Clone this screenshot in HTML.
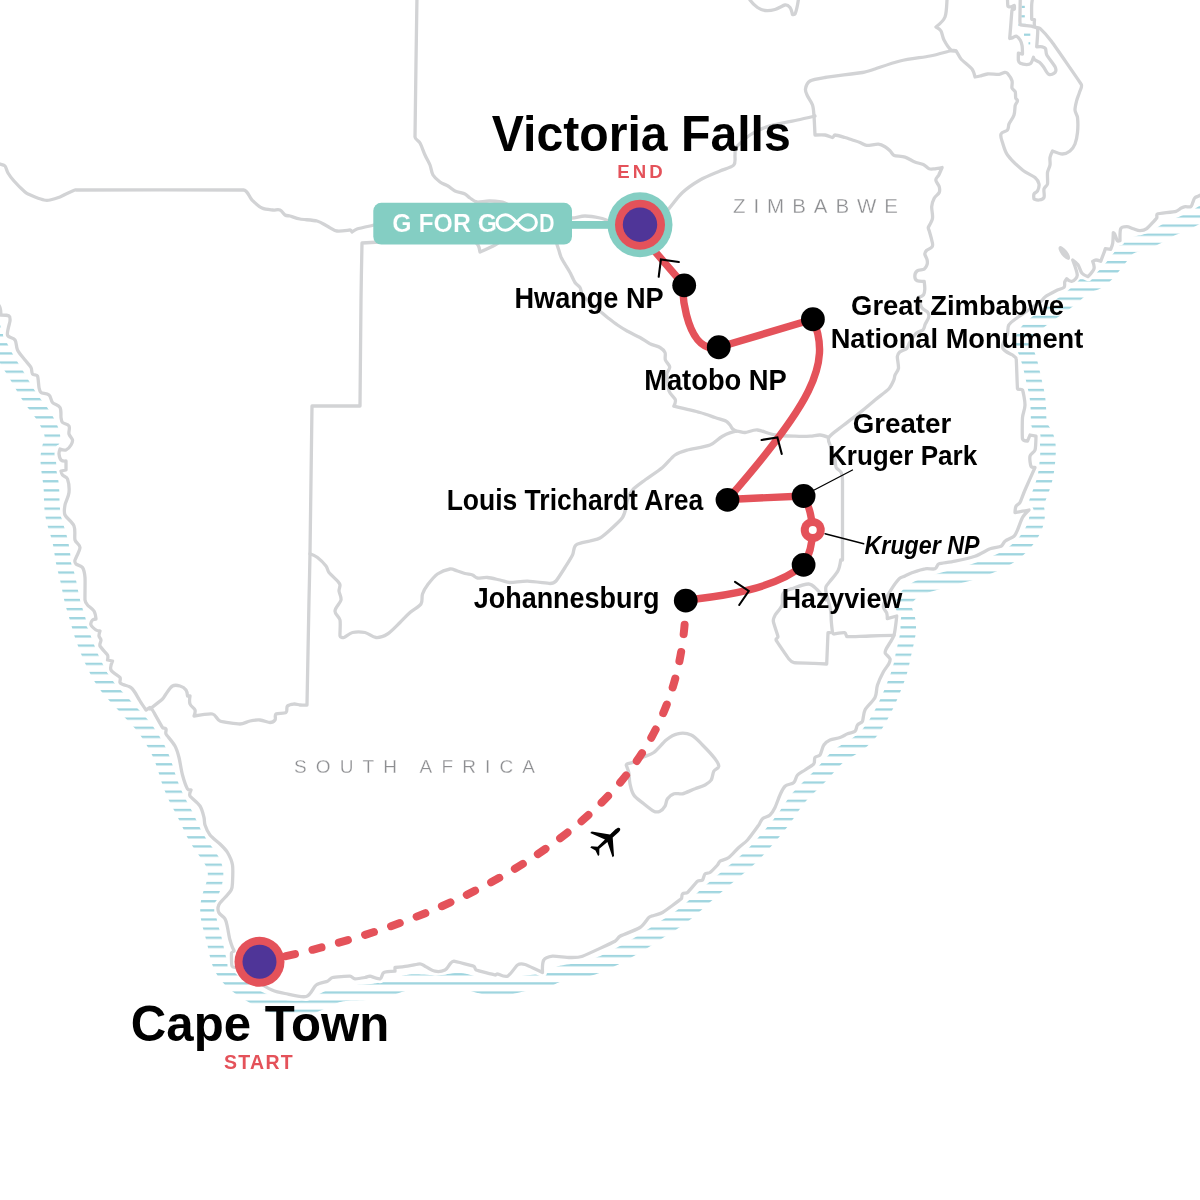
<!DOCTYPE html>
<html><head><meta charset="utf-8"><style>html,body{margin:0;padding:0;background:#fff;}svg{display:block;}</style></head>
<body><svg width="1200" height="1200" viewBox="0 0 1200 1200">
<defs>
<pattern id="hp" patternUnits="userSpaceOnUse" x="0" y="5.35" width="40" height="9.13"><rect x="0" y="0" width="40" height="2.3" fill="#9fd5df"/></pattern>
<mask id="hm" maskUnits="userSpaceOnUse" x="-10" y="-10" width="1220" height="1220">
<rect x="-10" y="-10" width="1220" height="1220" fill="#fff"/>
<path d="M1205,193 L1198.7,196 L1194.7,198 L1192.7,202.7 L1190.7,206.7 L1185.3,206.7 L1181.3,208 L1176,211.3 L1157.3,214 L1156.7,218 L1146.7,228.7 L1140,230.7 L1133.3,228.7 L1126.7,226.7 L1120.7,228.7 L1120,240.7 L1117.3,240.7 L1114.7,234 L1113.3,232.7 L1112.7,243.3 L1110.7,249.3 L1105.3,248.7 L1104,252.7 L1100.7,261.3 L1096,260 L1092.7,261.3 L1094,268.7 L1088,276.7 L1082,273.3 L1078,264.7 L1072.7,260 L1077.3,275.3 L1072,281.3 L1066.7,278.7 L1064.7,282 L1064,287.3 L1056,290.7 L1045.3,296.7 L1040,302.5 L1033.75,306.25 L1025,312.5 L1017.5,317.5 L1008.75,325 L1007.5,333.75 L1002.5,347.5 L1012.5,355 L1016.25,358.75 L1017.5,388.75 L1022.5,390 L1025,405 L1022.5,417.5 L1022.5,438.75 L1027.5,441.25 L1030,435 L1036,436.25 L1035,450 L1030,456.25 L1031,466.25 L1035,467.5 L1025,490 L1020,502.5 L1016,506.25 L1015,512.5 L1022.5,511.25 L1029,510 L1022.5,517.5 L1017.5,530 L1014,536.25 L1005,541.25 L1001,546.25 L990,548.75 L975,556.25 L955,561.25 L939,563.75 L935,568.75 L925,568.75 L912.5,572.5 L905,576 L899.3,578.7 L891.3,589.3 L886,598.7 L883.3,606.7 L886.7,613 L887.3,618.7 L896.7,616 L896,622.7 L894,635.3 L890,642.7 L886,649.3 L885.3,653.3 L890,658.7 L888.7,664 L883.3,672 L877.5,685 L875,697.5 L865,710 L862.5,721.25 L857.5,725 L855,731.25 L847.5,733.75 L840,737.5 L830,740 L823.75,745 L820,755 L815,757.5 L813.75,763.75 L805,770 L797.5,775 L793.75,782.5 L785,786.25 L780,795 L775,807.5 L770,815 L762.5,818.75 L758.75,825 L747.5,840 L738.75,847.5 L728.75,857.5 L720,861.25 L717.5,865 L710,872.5 L705,873.75 L702.5,880 L697.5,881.25 L687.5,892.5 L682.5,893.75 L681.25,898.75 L662.5,912.5 L653.75,915.5 L648.75,917.5 L640,927.5 L620,936.25 L615,941.25 L582.5,956.25 L570,957.5 L552.5,956.25 L543.75,960 L542.5,972.5 L525,964.5 L517.5,965 L507.5,976.25 L497.5,973.75 L495,975 L476.25,970 L473.75,966.25 L453.75,961.25 L450,964 L445,970 L435,971.25 L425,966.25 L420,963.75 L407.5,966.25 L395,967.5 L395,971.25 L383.75,972.5 L380,978.75 L370,976.25 L365,977.5 L355,978.75 L350,976.25 L332.5,977.5 L327.5,981.25 L316.25,985 L306.25,996.5 L285,993.5 L272,990 L258,982 L245,972 L237,968 L232,966 L231.5,953 L234,951 L233.75,950 L230,940 L227.5,927.5 L225,918.75 L218.75,912.5 L218.75,905 L225,897.5 L231.25,890 L232.5,882.5 L232.5,865 L227.5,852.5 L220,844 L210,835 L205,825 L204,817.5 L200,806 L190,796 L191,790 L187.5,789 L182.5,775 L179,757.5 L175,746 L166,734 L166,729 L162.5,727.5 L152.5,710 L150,707.5 L146,710 L140,701 L135,692.5 L132,688.5 L129,686.5 L123,684.5 L120,682.5 L120,677.5 L111,670 L112.5,661 L107.5,660 L107.5,655 L100,646 L101,640 L99,636 L100,631 L96,630 L91,625 L92.5,620 L96,619 L94,611 L87.5,605 L85,600 L85,577.5 L82.5,567.5 L76,564 L75,560 L80,547.5 L75,540 L74,526 L65,515 L65,505 L69,492.5 L67.5,479 L62.5,475 L61,471 L66,470 L66,461 L61,460 L59,454 L60,449 L66,450 L71,445 L72.5,440 L69,434 L69,426 L62.5,422.5 L61,417.5 L60,407.5 L52.5,402.5 L49,395 L41,392.5 L39,387.5 L37.5,376 L32.5,374 L31,367.5 L25,360 L17.5,350 L15,340 L7.5,335 L10,321 L9,316 L1,315 L0,307.5 L-5,300 L-10,-10 L1210,-10 Z" fill="#000"/>
<path d="M1200.58,195.875 L1199.33,196.744 L1197.9,197.744 L1196.29,198.858 L1194.52,200.06 L1192.61,201.321 L1190.56,202.611 L1188.4,203.9 L1186.12,205.162 L1183.76,206.382 L1181.31,207.55 L1178.8,208.668 L1176.25,209.747 L1173.68,210.803 L1171.1,211.857 L1168.55,212.932 L1166.03,214.048 L1163.57,215.222 L1161.15,216.459 L1158.78,217.756 L1156.44,219.096 L1154.12,220.452 L1151.81,221.792 L1149.49,223.08 L1147.15,224.282 L1144.77,225.371 L1142.37,226.335 L1139.95,227.177 L1137.53,227.916 L1135.15,228.587 L1132.83,229.227 L1130.6,229.874 L1128.5,230.558 L1126.54,231.294 L1124.73,232.086 L1123.07,232.921 L1121.56,233.787 L1120.17,234.67 L1118.91,235.563 L1117.73,236.471 L1116.62,237.41 L1115.56,238.405 L1114.52,239.481 L1113.48,240.663 L1112.42,241.968 L1111.33,243.399 L1110.19,244.946 L1109,246.592 L1107.74,248.313 L1106.42,250.084 L1105.06,251.881 L1103.65,253.685 L1102.21,255.481 L1100.76,257.258 L1099.3,259.005 L1097.84,260.709 L1096.39,262.348 L1094.94,263.893 L1093.49,265.312 L1092.02,266.565 L1090.54,267.611 L1089.04,268.416 L1087.53,268.96 L1086.02,269.242 L1084.52,269.289 L1083.06,269.15 L1081.67,268.898 L1080.38,268.624 L1079.19,268.422 L1078.13,268.381 L1077.19,268.566 L1076.35,269.016 L1075.58,269.738 L1074.84,270.719 L1074.07,271.919 L1073.25,273.29 L1072.32,274.777 L1071.27,276.334 L1070.07,277.923 L1068.71,279.52 L1067.21,281.112 L1065.56,282.695 L1063.79,284.27 L1061.89,285.845 L1059.89,287.423 L1057.8,289.011 L1055.63,290.609 L1053.39,292.222 L1051.1,293.853 L1048.77,295.503 L1046.4,297.173 L1044.02,298.862 L1041.63,300.567 L1039.23,302.289 L1036.82,304.025 L1034.43,305.774 L1032.03,307.535 L1029.66,309.311 L1027.31,311.11 L1025.01,312.941 L1022.76,314.814 L1020.59,316.742 L1018.53,318.733 L1016.59,320.799 L1014.8,322.945 L1013.18,325.173 L1011.74,327.478 L1010.5,329.852 L1009.48,332.282 L1008.7,334.75 L1008.15,337.237 L1007.85,339.725 L1007.81,342.201 L1008.01,344.656 L1008.44,347.088 L1009.06,349.505 L1009.83,351.916 L1010.71,354.335 L1011.65,356.777 L1012.59,359.258 L1013.5,361.786 L1014.34,364.365 L1015.12,366.991 L1015.82,369.657 L1016.47,372.349 L1017.08,375.052 L1017.67,377.753 L1018.26,380.442 L1018.85,383.113 L1019.47,385.766 L1020.08,388.409 L1020.68,391.049 L1021.25,393.7 L1021.77,396.373 L1022.21,399.078 L1022.58,401.819 L1022.85,404.597 L1023.04,407.403 L1023.16,410.226 L1023.23,413.05 L1023.29,415.853 L1023.36,418.608 L1023.48,421.285 L1023.67,423.848 L1023.97,426.262 L1024.39,428.499 L1024.94,430.534 L1025.62,432.359 L1026.41,433.982 L1027.3,435.434 L1028.23,436.761 L1029.18,438.025 L1030.08,439.291 L1030.9,440.623 L1031.6,442.075 L1032.14,443.684 L1032.52,445.467 L1032.74,447.425 L1032.83,449.541 L1032.8,451.789 L1032.68,454.137 L1032.52,456.558 L1032.31,459.025 L1032.08,461.522 L1031.82,464.035 L1031.51,466.563 L1031.14,469.104 L1030.69,471.658 L1030.15,474.23 L1029.5,476.82 L1028.75,479.427 L1027.9,482.047 L1026.98,484.672 L1026.02,487.286 L1025.04,489.876 L1024.07,492.419 L1023.16,494.892 L1022.34,497.269 L1021.66,499.524 L1021.13,501.638 L1020.79,503.595 L1020.65,505.389 L1020.68,507.03 L1020.86,508.538 L1021.13,509.951 L1021.43,511.313 L1021.69,512.675 L1021.84,514.086 L1021.82,515.59 L1021.6,517.217 L1021.16,518.979 L1020.49,520.874 L1019.6,522.885 L1018.5,524.984 L1017.22,527.136 L1015.76,529.303 L1014.14,531.451 L1012.38,533.548 L1010.48,535.573 L1008.46,537.507 L1006.32,539.339 L1004.08,541.066 L1001.74,542.689 L999.325,544.212 L996.833,545.645 L994.278,546.998 L991.669,548.284 L989.016,549.511 L986.325,550.689 L983.602,551.822 L980.853,552.912 L978.08,553.961 L975.286,554.968 L972.475,555.932 L969.648,556.852 L966.807,557.728 L963.955,558.562 L961.098,559.362 L958.24,560.137 L955.388,560.895 L952.547,561.646 L949.722,562.398 L946.915,563.158 L944.127,563.927 L941.356,564.708 L938.597,565.497 L935.847,566.294 L933.1,567.098 L930.352,567.909 L927.601,568.733 L924.849,569.58 L922.1,570.461 L919.363,571.394 L916.649,572.395 L913.971,573.483 L911.344,574.674 L908.783,575.982 L906.305,577.417 L903.924,578.988 L901.655,580.698 L899.508,582.545 L897.497,584.526 L895.636,586.629 L893.94,588.84 L892.425,591.141 L891.106,593.511 L890,595.926 L889.125,598.359 L888.495,600.781 L888.118,603.164 L887.995,605.48 L888.113,607.711 L888.448,609.843 L888.963,611.877 L889.607,613.825 L890.322,615.712 L891.047,617.572 L891.72,619.444 L892.29,621.367 L892.714,623.372 L892.963,625.481 L893.025,627.705 L892.901,630.039 L892.609,632.471 L892.179,634.982 L891.646,637.552 L891.048,640.16 L890.424,642.789 L889.804,645.426 L889.207,648.063 L888.639,650.697 L888.095,653.326 L887.559,655.951 L887.008,658.572 L886.418,661.194 L885.767,663.82 L885.038,666.454 L884.227,669.099 L883.337,671.758 L882.38,674.431 L881.37,677.12 L880.321,679.82 L879.244,682.53 L878.146,685.244 L877.026,687.954 L875.881,690.655 L874.707,693.342 L873.499,696.01 L872.256,698.657 L870.977,701.279 L869.666,703.877 L868.323,706.448 L866.951,708.992 L865.546,711.502 L864.103,713.969 L862.612,716.384 L861.059,718.731 L859.428,720.996 L857.704,723.167 L855.875,725.231 L853.934,727.181 L851.879,729.015 L849.715,730.739 L847.453,732.364 L845.111,733.907 L842.713,735.393 L840.286,736.851 L837.859,738.311 L835.458,739.801 L833.109,741.348 L830.831,742.973 L828.638,744.688 L826.534,746.497 L824.516,748.397 L822.574,750.375 L820.69,752.416 L818.846,754.502 L817.019,756.612 L815.189,758.727 L813.337,760.834 L811.451,762.923 L809.525,764.989 L807.558,767.03 L805.554,769.05 L803.519,771.052 L801.465,773.043 L799.404,775.029 L797.345,777.02 L795.302,779.022 L793.286,781.045 L791.306,783.099 L789.374,785.193 L787.496,787.335 L785.677,789.53 L783.918,791.782 L782.216,794.088 L780.562,796.442 L778.942,798.831 L777.337,801.239 L775.729,803.651 L774.101,806.049 L772.438,808.423 L770.732,810.765 L768.979,813.072 L767.182,815.349 L765.348,817.603 L763.487,819.843 L761.607,822.078 L759.714,824.314 L757.812,826.554 L755.901,828.798 L753.978,831.043 L752.039,833.281 L750.077,835.506 L748.088,837.71 L746.066,839.887 L744.009,842.032 L741.917,844.14 L739.79,846.211 L737.629,848.243 L735.439,850.236 L733.223,852.194 L730.987,854.119 L728.737,856.016 L726.479,857.89 L724.219,859.748 L721.965,861.597 L719.72,863.44 L717.491,865.283 L715.279,867.126 L713.085,868.969 L710.909,870.814 L708.751,872.66 L706.608,874.508 L704.478,876.359 L702.357,878.213 L700.244,880.073 L698.137,881.94 L696.033,883.814 L693.934,885.697 L691.837,887.587 L689.741,889.482 L687.642,891.377 L685.537,893.269 L683.418,895.153 L681.28,897.024 L679.114,898.877 L676.914,900.705 L674.671,902.5 L672.383,904.258 L670.047,905.974 L667.668,907.648 L665.249,909.282 L662.798,910.88 L660.326,912.452 L657.841,914.01 L655.355,915.562 L652.875,917.121 L650.405,918.692 L647.945,920.277 L645.491,921.871 L643.039,923.468 L640.583,925.062 L638.115,926.642 L635.63,928.202 L633.127,929.74 L630.604,931.255 L628.063,932.75 L625.509,934.228 L622.943,935.694 L620.369,937.151 L617.785,938.599 L615.193,940.034 L612.588,941.453 L609.969,942.85 L607.333,944.219 L604.678,945.554 L602.002,946.849 L599.306,948.097 L596.588,949.29 L593.848,950.419 L591.085,951.474 L588.298,952.446 L585.488,953.326 L582.656,954.107 L579.804,954.79 L576.937,955.377 L574.063,955.883 L571.193,956.326 L568.34,956.73 L565.519,957.127 L562.751,957.55 L560.056,958.032 L557.454,958.602 L554.964,959.278 L552.596,960.064 L550.352,960.95 L548.225,961.908 L546.196,962.897 L544.235,963.869 L542.307,964.773 L540.376,965.565 L538.407,966.217 L536.372,966.718 L534.254,967.079 L532.047,967.334 L529.757,967.528 L527.397,967.715 L524.983,967.943 L522.534,968.252 L520.066,968.66 L517.588,969.169 L515.104,969.761 L512.612,970.398 L510.107,971.035 L507.582,971.626 L505.028,972.124 L502.441,972.498 L499.818,972.719 L497.16,972.775 L494.472,972.662 L491.761,972.386 L489.035,971.961 L486.303,971.406 L483.572,970.746 L480.846,970.009 L478.128,969.225 L475.418,968.43 L472.715,967.662 L470.02,966.958 L467.332,966.355 L464.655,965.885 L461.988,965.573 L459.336,965.428 L456.699,965.45 L454.076,965.623 L451.466,965.917 L448.862,966.29 L446.259,966.691 L443.649,967.071 L441.025,967.384 L438.382,967.596 L435.715,967.692 L433.023,967.669 L430.308,967.547 L427.573,967.355 L424.818,967.131 L422.049,966.916 L419.271,966.749 L416.492,966.663 L413.722,966.683 L410.969,966.82 L408.242,967.079 L405.55,967.457 L402.901,967.947 L400.298,968.538 L397.74,969.213 L395.223,969.956 L392.739,970.746 L390.277,971.562 L387.824,972.38 L385.367,973.177 L382.894,973.932 L380.391,974.626 L377.85,975.243 L375.263,975.775 L372.627,976.218 L369.941,976.574 L367.209,976.85 L364.435,977.057 L361.627,977.208 L358.791,977.319 L355.934,977.408 L353.066,977.499 L350.195,977.615 L347.326,977.78 L344.466,978.018 L341.622,978.348 L338.798,978.788 L336.001,979.351 L333.238,980.045 L330.512,980.867 L327.827,981.811 L325.186,982.864 L322.587,984.007 L320.028,985.215 L317.502,986.456 L314.998,987.693 L312.504,988.888 L310.004,989.999 L307.484,990.986 L304.932,991.817 L302.337,992.467 L299.693,992.923 L296.999,993.18 L294.26,993.241 L291.484,993.116 L288.681,992.819 L285.862,992.366 L283.041,991.77 L280.228,991.042 L277.432,990.192 L274.661,989.228 L271.92,988.155 L269.214,986.982 L266.543,985.716 L263.909,984.366 L261.314,982.942 L258.756,981.454 L256.237,979.911 L253.763,978.323 L251.34,976.696 L248.98,975.032 L246.702,973.33 L244.527,971.582 L242.482,969.78 L240.594,967.91 L238.884,965.96 L237.37,963.918 L236.057,961.776 L234.938,959.532 L233.997,957.187 L233.204,954.748 L232.523,952.225 L231.914,949.629 L231.343,946.973 L230.778,944.27 L230.193,941.531 L229.573,938.769 L228.909,935.994 L228.202,933.216 L227.457,930.446 L226.689,927.692 L225.921,924.962 L225.181,922.26 L224.503,919.589 L223.93,916.948 L223.5,914.337 L223.249,911.751 L223.204,909.186 L223.379,906.637 L223.769,904.097 L224.353,901.559 L225.093,899.014 L225.942,896.454 L226.845,893.869 L227.747,891.251 L228.597,888.596 L229.351,885.899 L229.973,883.163 L230.44,880.39 L230.734,877.588 L230.845,874.769 L230.767,871.945 L230.498,869.13 L230.037,866.337 L229.386,863.578 L228.55,860.865 L227.537,858.204 L226.357,855.602 L225.025,853.059 L223.561,850.573 L221.989,848.137 L220.337,845.739 L218.634,843.367 L216.913,841.004 L215.202,838.635 L213.528,836.244 L211.914,833.819 L210.374,831.352 L208.916,828.838 L207.539,826.28 L206.231,823.685 L204.975,821.064 L203.752,818.429 L202.541,815.795 L201.324,813.174 L200.087,810.579 L198.823,808.016 L197.534,805.489 L196.226,802.996 L194.91,800.532 L193.601,798.088 L192.311,795.652 L191.052,793.212 L189.833,790.755 L188.661,788.268 L187.539,785.743 L186.469,783.172 L185.448,780.552 L184.475,777.882 L183.543,775.167 L182.643,772.413 L181.765,769.628 L180.898,766.822 L180.025,764.007 L179.129,761.195 L178.196,758.394 L177.213,755.616 L176.168,752.868 L175.059,750.154 L173.885,747.479 L172.647,744.844 L171.353,742.25 L170.008,739.696 L168.621,737.181 L167.198,734.702 L165.745,732.256 L164.264,729.844 L162.757,727.467 L161.221,725.131 L159.655,722.841 L158.058,720.605 L156.427,718.431 L154.763,716.32 L153.066,714.274 L151.339,712.284 L149.586,710.338 L147.814,708.418 L146.027,706.503 L144.23,704.576 L142.423,702.623 L140.604,700.64 L138.77,698.626 L136.92,696.59 L135.052,694.543 L133.166,692.496 L131.267,690.457 L129.363,688.432 L127.468,686.418 L125.598,684.409 L123.771,682.395 L122.003,680.366 L120.308,678.312 L118.695,676.23 L117.17,674.118 L115.732,671.974 L114.374,669.801 L113.087,667.603 L111.858,665.381 L110.674,663.139 L109.519,660.878 L108.386,658.594 L107.27,656.286 L106.171,653.95 L105.092,651.588 L104.04,649.203 L103.016,646.801 L102.024,644.388 L101.066,641.976 L100.141,639.574 L99.2497,637.193 L98.3917,634.839 L97.569,632.515 L96.7861,630.218 L96.0468,627.943 L95.3517,625.681 L94.6932,623.421 L94.0573,621.155 L93.428,618.871 L92.7871,616.56 L92.1186,614.216 L91.4131,611.83 L90.6704,609.398 L89.9014,606.915 L89.125,604.379 L88.3619,601.787 L87.631,599.142 L86.9489,596.446 L86.3218,593.705 L85.7444,590.933 L85.2027,588.14 L84.6759,585.343 L84.1426,582.555 L83.5829,579.79 L82.9872,577.059 L82.3538,574.369 L81.6915,571.72 L81.0179,569.108 L80.3549,566.527 L79.7252,563.964 L79.1456,561.409 L78.6248,558.85 L78.161,556.278 L77.7423,553.685 L77.3482,551.069 L76.9552,548.429 L76.5385,545.766 L76.0763,543.085 L75.5529,540.389 L74.9599,537.686 L74.2954,534.98 L73.5646,532.276 L72.7802,529.576 L71.9605,526.882 L71.1295,524.192 L70.3152,521.503 L69.5483,518.81 L68.8578,516.106 L68.2678,513.387 L67.7938,510.649 L67.4404,507.888 L67.2027,505.109 L67.0601,502.317 L66.9818,499.518 L66.9336,496.724 L66.8819,493.946 L66.7974,491.201 L66.6617,488.5 L66.4675,485.856 L66.2182,483.276 L65.9249,480.767 L65.6044,478.333 L65.2736,475.974 L64.9456,473.683 L64.6304,471.454 L64.3351,469.276 L64.066,467.143 L63.8305,465.048 L63.6424,462.987 L63.5225,460.959 L63.4961,458.961 L63.5879,456.991 L63.8134,455.045 L64.1751,453.115 L64.6598,451.189 L65.237,449.249 L65.8604,447.277 L66.4726,445.257 L67.0133,443.176 L67.4259,441.024 L67.6667,438.803 L67.7087,436.518 L67.5401,434.18 L67.1651,431.799 L66.601,429.387 L65.8699,426.955 L64.9969,424.516 L64.0071,422.077 L62.9215,419.643 L61.7547,417.22 L60.5153,414.812 L59.2071,412.429 L57.8305,410.078 L56.3855,407.765 L54.8734,405.493 L53.3009,403.262 L51.6817,401.067 L50.0323,398.898 L48.372,396.745 L46.7224,394.592 L45.1039,392.427 L43.532,390.236 L42.0139,388.013 L40.5487,385.753 L39.1295,383.458 L37.7438,381.131 L36.376,378.777 L35.0098,376.402 L33.6313,374.013 L32.228,371.613 L30.7927,369.205 L29.3238,366.79 L27.8268,364.368 L26.3106,361.937 L24.787,359.495 L23.2687,357.044 L21.7681,354.583 L20.2976,352.117 L18.8685,349.647 L17.4917,347.178 L16.1776,344.711 L14.9369,342.248 L13.7779,339.788 L12.703,337.333 L11.7072,334.887 L10.7802,332.453 L9.90611,330.038 L9.0622,327.651 L8.22226,325.302 L7.36132,323.002 L6.46005,320.76 L5.50834,318.583 L4.5072,316.478 L3.4684,314.453 L2.41272,312.518 L1.3672,310.685 L0.360697,308.97 L-0.579157,307.392 L-1.43058,305.969 L-2.17865,304.717 L-10,-10 L1210,-10 Z" fill="#000"/>
<path d="M1200.58,195.875 L1199.33,196.744 L1197.9,197.744 L1196.29,198.858 L1194.52,200.06 L1192.61,201.321 L1190.56,202.611 L1188.4,203.9 L1186.12,205.162 L1183.76,206.382 L1181.31,207.55 L1178.8,208.668 L1176.25,209.747 L1173.68,210.803 L1171.1,211.857 L1168.55,212.932 L1166.03,214.048 L1163.57,215.222 L1161.15,216.459 L1158.78,217.756 L1156.44,219.096 L1154.12,220.452 L1151.81,221.792 L1149.49,223.08 L1147.15,224.282 L1144.77,225.371 L1142.37,226.335 L1139.95,227.177 L1137.53,227.916 L1135.15,228.587 L1132.83,229.227 L1130.6,229.874 L1128.5,230.558 L1126.54,231.294 L1124.73,232.086 L1123.07,232.921 L1121.56,233.787 L1120.17,234.67 L1118.91,235.563 L1117.73,236.471 L1116.62,237.41 L1115.56,238.405 L1114.52,239.481 L1113.48,240.663 L1112.42,241.968 L1111.33,243.399 L1110.19,244.946 L1109,246.592 L1107.74,248.313 L1106.42,250.084 L1105.06,251.881 L1103.65,253.685 L1102.21,255.481 L1100.76,257.258 L1099.3,259.005 L1097.84,260.709 L1096.39,262.348 L1094.94,263.893 L1093.49,265.312 L1092.02,266.565 L1090.54,267.611 L1089.04,268.416 L1087.53,268.96 L1086.02,269.242 L1084.52,269.289 L1083.06,269.15 L1081.67,268.898 L1080.38,268.624 L1079.19,268.422 L1078.13,268.381 L1077.19,268.566 L1076.35,269.016 L1075.58,269.738 L1074.84,270.719 L1074.07,271.919 L1073.25,273.29 L1072.32,274.777 L1071.27,276.334 L1070.07,277.923 L1068.71,279.52 L1067.21,281.112 L1065.56,282.695 L1063.79,284.27 L1061.89,285.845 L1059.89,287.423 L1057.8,289.011 L1055.63,290.609 L1053.39,292.222 L1051.1,293.853 L1048.77,295.503 L1046.4,297.173 L1044.02,298.862 L1041.63,300.567 L1039.23,302.289 L1036.82,304.025 L1034.43,305.774 L1032.03,307.535 L1029.66,309.311 L1027.31,311.11 L1025.01,312.941 L1022.76,314.814 L1020.59,316.742 L1018.53,318.733 L1016.59,320.799 L1014.8,322.945 L1013.18,325.173 L1011.74,327.478 L1010.5,329.852 L1009.48,332.282 L1008.7,334.75 L1008.15,337.237 L1007.85,339.725 L1007.81,342.201 L1008.01,344.656 L1008.44,347.088 L1009.06,349.505 L1009.83,351.916 L1010.71,354.335 L1011.65,356.777 L1012.59,359.258 L1013.5,361.786 L1014.34,364.365 L1015.12,366.991 L1015.82,369.657 L1016.47,372.349 L1017.08,375.052 L1017.67,377.753 L1018.26,380.442 L1018.85,383.113 L1019.47,385.766 L1020.08,388.409 L1020.68,391.049 L1021.25,393.7 L1021.77,396.373 L1022.21,399.078 L1022.58,401.819 L1022.85,404.597 L1023.04,407.403 L1023.16,410.226 L1023.23,413.05 L1023.29,415.853 L1023.36,418.608 L1023.48,421.285 L1023.67,423.848 L1023.97,426.262 L1024.39,428.499 L1024.94,430.534 L1025.62,432.359 L1026.41,433.982 L1027.3,435.434 L1028.23,436.761 L1029.18,438.025 L1030.08,439.291 L1030.9,440.623 L1031.6,442.075 L1032.14,443.684 L1032.52,445.467 L1032.74,447.425 L1032.83,449.541 L1032.8,451.789 L1032.68,454.137 L1032.52,456.558 L1032.31,459.025 L1032.08,461.522 L1031.82,464.035 L1031.51,466.563 L1031.14,469.104 L1030.69,471.658 L1030.15,474.23 L1029.5,476.82 L1028.75,479.427 L1027.9,482.047 L1026.98,484.672 L1026.02,487.286 L1025.04,489.876 L1024.07,492.419 L1023.16,494.892 L1022.34,497.269 L1021.66,499.524 L1021.13,501.638 L1020.79,503.595 L1020.65,505.389 L1020.68,507.03 L1020.86,508.538 L1021.13,509.951 L1021.43,511.313 L1021.69,512.675 L1021.84,514.086 L1021.82,515.59 L1021.6,517.217 L1021.16,518.979 L1020.49,520.874 L1019.6,522.885 L1018.5,524.984 L1017.22,527.136 L1015.76,529.303 L1014.14,531.451 L1012.38,533.548 L1010.48,535.573 L1008.46,537.507 L1006.32,539.339 L1004.08,541.066 L1001.74,542.689 L999.325,544.212 L996.833,545.645 L994.278,546.998 L991.669,548.284 L989.016,549.511 L986.325,550.689 L983.602,551.822 L980.853,552.912 L978.08,553.961 L975.286,554.968 L972.475,555.932 L969.648,556.852 L966.807,557.728 L963.955,558.562 L961.098,559.362 L958.24,560.137 L955.388,560.895 L952.547,561.646 L949.722,562.398 L946.915,563.158 L944.127,563.927 L941.356,564.708 L938.597,565.497 L935.847,566.294 L933.1,567.098 L930.352,567.909 L927.601,568.733 L924.849,569.58 L922.1,570.461 L919.363,571.394 L916.649,572.395 L913.971,573.483 L911.344,574.674 L908.783,575.982 L906.305,577.417 L903.924,578.988 L901.655,580.698 L899.508,582.545 L897.497,584.526 L895.636,586.629 L893.94,588.84 L892.425,591.141 L891.106,593.511 L890,595.926 L889.125,598.359 L888.495,600.781 L888.118,603.164 L887.995,605.48 L888.113,607.711 L888.448,609.843 L888.963,611.877 L889.607,613.825 L890.322,615.712 L891.047,617.572 L891.72,619.444 L892.29,621.367 L892.714,623.372 L892.963,625.481 L893.025,627.705 L892.901,630.039 L892.609,632.471 L892.179,634.982 L891.646,637.552 L891.048,640.16 L890.424,642.789 L889.804,645.426 L889.207,648.063 L888.639,650.697 L888.095,653.326 L887.559,655.951 L887.008,658.572 L886.418,661.194 L885.767,663.82 L885.038,666.454 L884.227,669.099 L883.337,671.758 L882.38,674.431 L881.37,677.12 L880.321,679.82 L879.244,682.53 L878.146,685.244 L877.026,687.954 L875.881,690.655 L874.707,693.342 L873.499,696.01 L872.256,698.657 L870.977,701.279 L869.666,703.877 L868.323,706.448 L866.951,708.992 L865.546,711.502 L864.103,713.969 L862.612,716.384 L861.059,718.731 L859.428,720.996 L857.704,723.167 L855.875,725.231 L853.934,727.181 L851.879,729.015 L849.715,730.739 L847.453,732.364 L845.111,733.907 L842.713,735.393 L840.286,736.851 L837.859,738.311 L835.458,739.801 L833.109,741.348 L830.831,742.973 L828.638,744.688 L826.534,746.497 L824.516,748.397 L822.574,750.375 L820.69,752.416 L818.846,754.502 L817.019,756.612 L815.189,758.727 L813.337,760.834 L811.451,762.923 L809.525,764.989 L807.558,767.03 L805.554,769.05 L803.519,771.052 L801.465,773.043 L799.404,775.029 L797.345,777.02 L795.302,779.022 L793.286,781.045 L791.306,783.099 L789.374,785.193 L787.496,787.335 L785.677,789.53 L783.918,791.782 L782.216,794.088 L780.562,796.442 L778.942,798.831 L777.337,801.239 L775.729,803.651 L774.101,806.049 L772.438,808.423 L770.732,810.765 L768.979,813.072 L767.182,815.349 L765.348,817.603 L763.487,819.843 L761.607,822.078 L759.714,824.314 L757.812,826.554 L755.901,828.798 L753.978,831.043 L752.039,833.281 L750.077,835.506 L748.088,837.71 L746.066,839.887 L744.009,842.032 L741.917,844.14 L739.79,846.211 L737.629,848.243 L735.439,850.236 L733.223,852.194 L730.987,854.119 L728.737,856.016 L726.479,857.89 L724.219,859.748 L721.965,861.597 L719.72,863.44 L717.491,865.283 L715.279,867.126 L713.085,868.969 L710.909,870.814 L708.751,872.66 L706.608,874.508 L704.478,876.359 L702.357,878.213 L700.244,880.073 L698.137,881.94 L696.033,883.814 L693.934,885.697 L691.837,887.587 L689.741,889.482 L687.642,891.377 L685.537,893.269 L683.418,895.153 L681.28,897.024 L679.114,898.877 L676.914,900.705 L674.671,902.5 L672.383,904.258 L670.047,905.974 L667.668,907.648 L665.249,909.282 L662.798,910.88 L660.326,912.452 L657.841,914.01 L655.355,915.562 L652.875,917.121 L650.405,918.692 L647.945,920.277 L645.491,921.871 L643.039,923.468 L640.583,925.062 L638.115,926.642 L635.63,928.202 L633.127,929.74 L630.604,931.255 L628.063,932.75 L625.509,934.228 L622.943,935.694 L620.369,937.151 L617.785,938.599 L615.193,940.034 L612.588,941.453 L609.969,942.85 L607.333,944.219 L604.678,945.554 L602.002,946.849 L599.306,948.097 L596.588,949.29 L593.848,950.419 L591.085,951.474 L588.298,952.446 L585.488,953.326 L582.656,954.107 L579.804,954.79 L576.937,955.377 L574.063,955.883 L571.193,956.326 L568.34,956.73 L565.519,957.127 L562.751,957.55 L560.056,958.032 L557.454,958.602 L554.964,959.278 L552.596,960.064 L550.352,960.95 L548.225,961.908 L546.196,962.897 L544.235,963.869 L542.307,964.773 L540.376,965.565 L538.407,966.217 L536.372,966.718 L534.254,967.079 L532.047,967.334 L529.757,967.528 L527.397,967.715 L524.983,967.943 L522.534,968.252 L520.066,968.66 L517.588,969.169 L515.104,969.761 L512.612,970.398 L510.107,971.035 L507.582,971.626 L505.028,972.124 L502.441,972.498 L499.818,972.719 L497.16,972.775 L494.472,972.662 L491.761,972.386 L489.035,971.961 L486.303,971.406 L483.572,970.746 L480.846,970.009 L478.128,969.225 L475.418,968.43 L472.715,967.662 L470.02,966.958 L467.332,966.355 L464.655,965.885 L461.988,965.573 L459.336,965.428 L456.699,965.45 L454.076,965.623 L451.466,965.917 L448.862,966.29 L446.259,966.691 L443.649,967.071 L441.025,967.384 L438.382,967.596 L435.715,967.692 L433.023,967.669 L430.308,967.547 L427.573,967.355 L424.818,967.131 L422.049,966.916 L419.271,966.749 L416.492,966.663 L413.722,966.683 L410.969,966.82 L408.242,967.079 L405.55,967.457 L402.901,967.947 L400.298,968.538 L397.74,969.213 L395.223,969.956 L392.739,970.746 L390.277,971.562 L387.824,972.38 L385.367,973.177 L382.894,973.932 L380.391,974.626 L377.85,975.243 L375.263,975.775 L372.627,976.218 L369.941,976.574 L367.209,976.85 L364.435,977.057 L361.627,977.208 L358.791,977.319 L355.934,977.408 L353.066,977.499 L350.195,977.615 L347.326,977.78 L344.466,978.018 L341.622,978.348 L338.798,978.788 L336.001,979.351 L333.238,980.045 L330.512,980.867 L327.827,981.811 L325.186,982.864 L322.587,984.007 L320.028,985.215 L317.502,986.456 L314.998,987.693 L312.504,988.888 L310.004,989.999 L307.484,990.986 L304.932,991.817 L302.337,992.467 L299.693,992.923 L296.999,993.18 L294.26,993.241 L291.484,993.116 L288.681,992.819 L285.862,992.366 L283.041,991.77 L280.228,991.042 L277.432,990.192 L274.661,989.228 L271.92,988.155 L269.214,986.982 L266.543,985.716 L263.909,984.366 L261.314,982.942 L258.756,981.454 L256.237,979.911 L253.763,978.323 L251.34,976.696 L248.98,975.032 L246.702,973.33 L244.527,971.582 L242.482,969.78 L240.594,967.91 L238.884,965.96 L237.37,963.918 L236.057,961.776 L234.938,959.532 L233.997,957.187 L233.204,954.748 L232.523,952.225 L231.914,949.629 L231.343,946.973 L230.778,944.27 L230.193,941.531 L229.573,938.769 L228.909,935.994 L228.202,933.216 L227.457,930.446 L226.689,927.692 L225.921,924.962 L225.181,922.26 L224.503,919.589 L223.93,916.948 L223.5,914.337 L223.249,911.751 L223.204,909.186 L223.379,906.637 L223.769,904.097 L224.353,901.559 L225.093,899.014 L225.942,896.454 L226.845,893.869 L227.747,891.251 L228.597,888.596 L229.351,885.899 L229.973,883.163 L230.44,880.39 L230.734,877.588 L230.845,874.769 L230.767,871.945 L230.498,869.13 L230.037,866.337 L229.386,863.578 L228.55,860.865 L227.537,858.204 L226.357,855.602 L225.025,853.059 L223.561,850.573 L221.989,848.137 L220.337,845.739 L218.634,843.367 L216.913,841.004 L215.202,838.635 L213.528,836.244 L211.914,833.819 L210.374,831.352 L208.916,828.838 L207.539,826.28 L206.231,823.685 L204.975,821.064 L203.752,818.429 L202.541,815.795 L201.324,813.174 L200.087,810.579 L198.823,808.016 L197.534,805.489 L196.226,802.996 L194.91,800.532 L193.601,798.088 L192.311,795.652 L191.052,793.212 L189.833,790.755 L188.661,788.268 L187.539,785.743 L186.469,783.172 L185.448,780.552 L184.475,777.882 L183.543,775.167 L182.643,772.413 L181.765,769.628 L180.898,766.822 L180.025,764.007 L179.129,761.195 L178.196,758.394 L177.213,755.616 L176.168,752.868 L175.059,750.154 L173.885,747.479 L172.647,744.844 L171.353,742.25 L170.008,739.696 L168.621,737.181 L167.198,734.702 L165.745,732.256 L164.264,729.844 L162.757,727.467 L161.221,725.131 L159.655,722.841 L158.058,720.605 L156.427,718.431 L154.763,716.32 L153.066,714.274 L151.339,712.284 L149.586,710.338 L147.814,708.418 L146.027,706.503 L144.23,704.576 L142.423,702.623 L140.604,700.64 L138.77,698.626 L136.92,696.59 L135.052,694.543 L133.166,692.496 L131.267,690.457 L129.363,688.432 L127.468,686.418 L125.598,684.409 L123.771,682.395 L122.003,680.366 L120.308,678.312 L118.695,676.23 L117.17,674.118 L115.732,671.974 L114.374,669.801 L113.087,667.603 L111.858,665.381 L110.674,663.139 L109.519,660.878 L108.386,658.594 L107.27,656.286 L106.171,653.95 L105.092,651.588 L104.04,649.203 L103.016,646.801 L102.024,644.388 L101.066,641.976 L100.141,639.574 L99.2497,637.193 L98.3917,634.839 L97.569,632.515 L96.7861,630.218 L96.0468,627.943 L95.3517,625.681 L94.6932,623.421 L94.0573,621.155 L93.428,618.871 L92.7871,616.56 L92.1186,614.216 L91.4131,611.83 L90.6704,609.398 L89.9014,606.915 L89.125,604.379 L88.3619,601.787 L87.631,599.142 L86.9489,596.446 L86.3218,593.705 L85.7444,590.933 L85.2027,588.14 L84.6759,585.343 L84.1426,582.555 L83.5829,579.79 L82.9872,577.059 L82.3538,574.369 L81.6915,571.72 L81.0179,569.108 L80.3549,566.527 L79.7252,563.964 L79.1456,561.409 L78.6248,558.85 L78.161,556.278 L77.7423,553.685 L77.3482,551.069 L76.9552,548.429 L76.5385,545.766 L76.0763,543.085 L75.5529,540.389 L74.9599,537.686 L74.2954,534.98 L73.5646,532.276 L72.7802,529.576 L71.9605,526.882 L71.1295,524.192 L70.3152,521.503 L69.5483,518.81 L68.8578,516.106 L68.2678,513.387 L67.7938,510.649 L67.4404,507.888 L67.2027,505.109 L67.0601,502.317 L66.9818,499.518 L66.9336,496.724 L66.8819,493.946 L66.7974,491.201 L66.6617,488.5 L66.4675,485.856 L66.2182,483.276 L65.9249,480.767 L65.6044,478.333 L65.2736,475.974 L64.9456,473.683 L64.6304,471.454 L64.3351,469.276 L64.066,467.143 L63.8305,465.048 L63.6424,462.987 L63.5225,460.959 L63.4961,458.961 L63.5879,456.991 L63.8134,455.045 L64.1751,453.115 L64.6598,451.189 L65.237,449.249 L65.8604,447.277 L66.4726,445.257 L67.0133,443.176 L67.4259,441.024 L67.6667,438.803 L67.7087,436.518 L67.5401,434.18 L67.1651,431.799 L66.601,429.387 L65.8699,426.955 L64.9969,424.516 L64.0071,422.077 L62.9215,419.643 L61.7547,417.22 L60.5153,414.812 L59.2071,412.429 L57.8305,410.078 L56.3855,407.765 L54.8734,405.493 L53.3009,403.262 L51.6817,401.067 L50.0323,398.898 L48.372,396.745 L46.7224,394.592 L45.1039,392.427 L43.532,390.236 L42.0139,388.013 L40.5487,385.753 L39.1295,383.458 L37.7438,381.131 L36.376,378.777 L35.0098,376.402 L33.6313,374.013 L32.228,371.613 L30.7927,369.205 L29.3238,366.79 L27.8268,364.368 L26.3106,361.937 L24.787,359.495 L23.2687,357.044 L21.7681,354.583 L20.2976,352.117 L18.8685,349.647 L17.4917,347.178 L16.1776,344.711 L14.9369,342.248 L13.7779,339.788 L12.703,337.333 L11.7072,334.887 L10.7802,332.453 L9.90611,330.038 L9.0622,327.651 L8.22226,325.302 L7.36132,323.002 L6.46005,320.76 L5.50834,318.583 L4.5072,316.478 L3.4684,314.453 L2.41272,312.518 L1.3672,310.685 L0.360697,308.97 L-0.579157,307.392 L-1.43058,305.969 L-2.17865,304.717" fill="none" stroke="#000" stroke-width="15.0" stroke-linejoin="round"/>
<path d="M1205,193 L1198.7,196 L1194.7,198 L1192.7,202.7 L1190.7,206.7 L1185.3,206.7 L1181.3,208 L1176,211.3 L1157.3,214 L1156.7,218 L1146.7,228.7 L1140,230.7 L1133.3,228.7 L1126.7,226.7 L1120.7,228.7 L1120,240.7 L1117.3,240.7 L1114.7,234 L1113.3,232.7 L1112.7,243.3 L1110.7,249.3 L1105.3,248.7 L1104,252.7 L1100.7,261.3 L1096,260 L1092.7,261.3 L1094,268.7 L1088,276.7 L1082,273.3 L1078,264.7 L1072.7,260 L1077.3,275.3 L1072,281.3 L1066.7,278.7 L1064.7,282 L1064,287.3 L1056,290.7 L1045.3,296.7 L1040,302.5 L1033.75,306.25 L1025,312.5 L1017.5,317.5 L1008.75,325 L1007.5,333.75 L1002.5,347.5 L1012.5,355 L1016.25,358.75 L1017.5,388.75 L1022.5,390 L1025,405 L1022.5,417.5 L1022.5,438.75 L1027.5,441.25 L1030,435 L1036,436.25 L1035,450 L1030,456.25 L1031,466.25 L1035,467.5 L1025,490 L1020,502.5 L1016,506.25 L1015,512.5 L1022.5,511.25 L1029,510 L1022.5,517.5 L1017.5,530 L1014,536.25 L1005,541.25 L1001,546.25 L990,548.75 L975,556.25 L955,561.25 L939,563.75 L935,568.75 L925,568.75 L912.5,572.5 L905,576 L899.3,578.7 L891.3,589.3 L886,598.7 L883.3,606.7 L886.7,613 L887.3,618.7 L896.7,616 L896,622.7 L894,635.3 L890,642.7 L886,649.3 L885.3,653.3 L890,658.7 L888.7,664 L883.3,672 L877.5,685 L875,697.5 L865,710 L862.5,721.25 L857.5,725 L855,731.25 L847.5,733.75 L840,737.5 L830,740 L823.75,745 L820,755 L815,757.5 L813.75,763.75 L805,770 L797.5,775 L793.75,782.5 L785,786.25 L780,795 L775,807.5 L770,815 L762.5,818.75 L758.75,825 L747.5,840 L738.75,847.5 L728.75,857.5 L720,861.25 L717.5,865 L710,872.5 L705,873.75 L702.5,880 L697.5,881.25 L687.5,892.5 L682.5,893.75 L681.25,898.75 L662.5,912.5 L653.75,915.5 L648.75,917.5 L640,927.5 L620,936.25 L615,941.25 L582.5,956.25 L570,957.5 L552.5,956.25 L543.75,960 L542.5,972.5 L525,964.5 L517.5,965 L507.5,976.25 L497.5,973.75 L495,975 L476.25,970 L473.75,966.25 L453.75,961.25 L450,964 L445,970 L435,971.25 L425,966.25 L420,963.75 L407.5,966.25 L395,967.5 L395,971.25 L383.75,972.5 L380,978.75 L370,976.25 L365,977.5 L355,978.75 L350,976.25 L332.5,977.5 L327.5,981.25 L316.25,985 L306.25,996.5 L285,993.5 L272,990 L258,982 L245,972 L237,968 L232,966 L231.5,953 L234,951 L233.75,950 L230,940 L227.5,927.5 L225,918.75 L218.75,912.5 L218.75,905 L225,897.5 L231.25,890 L232.5,882.5 L232.5,865 L227.5,852.5 L220,844 L210,835 L205,825 L204,817.5 L200,806 L190,796 L191,790 L187.5,789 L182.5,775 L179,757.5 L175,746 L166,734 L166,729 L162.5,727.5 L152.5,710 L150,707.5 L146,710 L140,701 L135,692.5 L132,688.5 L129,686.5 L123,684.5 L120,682.5 L120,677.5 L111,670 L112.5,661 L107.5,660 L107.5,655 L100,646 L101,640 L99,636 L100,631 L96,630 L91,625 L92.5,620 L96,619 L94,611 L87.5,605 L85,600 L85,577.5 L82.5,567.5 L76,564 L75,560 L80,547.5 L75,540 L74,526 L65,515 L65,505 L69,492.5 L67.5,479 L62.5,475 L61,471 L66,470 L66,461 L61,460 L59,454 L60,449 L66,450 L71,445 L72.5,440 L69,434 L69,426 L62.5,422.5 L61,417.5 L60,407.5 L52.5,402.5 L49,395 L41,392.5 L39,387.5 L37.5,376 L32.5,374 L31,367.5 L25,360 L17.5,350 L15,340 L7.5,335 L10,321 L9,316 L1,315 L0,307.5 L-5,300" fill="none" stroke="#000" stroke-width="9" stroke-linejoin="round"/>
</mask>
</defs>
<rect width="1200" height="1200" fill="#fff"/>
<path d="M1200.58,195.875 L1199.33,196.744 L1197.9,197.744 L1196.29,198.858 L1194.52,200.06 L1192.61,201.321 L1190.56,202.611 L1188.4,203.9 L1186.12,205.162 L1183.76,206.382 L1181.31,207.55 L1178.8,208.668 L1176.25,209.747 L1173.68,210.803 L1171.1,211.857 L1168.55,212.932 L1166.03,214.048 L1163.57,215.222 L1161.15,216.459 L1158.78,217.756 L1156.44,219.096 L1154.12,220.452 L1151.81,221.792 L1149.49,223.08 L1147.15,224.282 L1144.77,225.371 L1142.37,226.335 L1139.95,227.177 L1137.53,227.916 L1135.15,228.587 L1132.83,229.227 L1130.6,229.874 L1128.5,230.558 L1126.54,231.294 L1124.73,232.086 L1123.07,232.921 L1121.56,233.787 L1120.17,234.67 L1118.91,235.563 L1117.73,236.471 L1116.62,237.41 L1115.56,238.405 L1114.52,239.481 L1113.48,240.663 L1112.42,241.968 L1111.33,243.399 L1110.19,244.946 L1109,246.592 L1107.74,248.313 L1106.42,250.084 L1105.06,251.881 L1103.65,253.685 L1102.21,255.481 L1100.76,257.258 L1099.3,259.005 L1097.84,260.709 L1096.39,262.348 L1094.94,263.893 L1093.49,265.312 L1092.02,266.565 L1090.54,267.611 L1089.04,268.416 L1087.53,268.96 L1086.02,269.242 L1084.52,269.289 L1083.06,269.15 L1081.67,268.898 L1080.38,268.624 L1079.19,268.422 L1078.13,268.381 L1077.19,268.566 L1076.35,269.016 L1075.58,269.738 L1074.84,270.719 L1074.07,271.919 L1073.25,273.29 L1072.32,274.777 L1071.27,276.334 L1070.07,277.923 L1068.71,279.52 L1067.21,281.112 L1065.56,282.695 L1063.79,284.27 L1061.89,285.845 L1059.89,287.423 L1057.8,289.011 L1055.63,290.609 L1053.39,292.222 L1051.1,293.853 L1048.77,295.503 L1046.4,297.173 L1044.02,298.862 L1041.63,300.567 L1039.23,302.289 L1036.82,304.025 L1034.43,305.774 L1032.03,307.535 L1029.66,309.311 L1027.31,311.11 L1025.01,312.941 L1022.76,314.814 L1020.59,316.742 L1018.53,318.733 L1016.59,320.799 L1014.8,322.945 L1013.18,325.173 L1011.74,327.478 L1010.5,329.852 L1009.48,332.282 L1008.7,334.75 L1008.15,337.237 L1007.85,339.725 L1007.81,342.201 L1008.01,344.656 L1008.44,347.088 L1009.06,349.505 L1009.83,351.916 L1010.71,354.335 L1011.65,356.777 L1012.59,359.258 L1013.5,361.786 L1014.34,364.365 L1015.12,366.991 L1015.82,369.657 L1016.47,372.349 L1017.08,375.052 L1017.67,377.753 L1018.26,380.442 L1018.85,383.113 L1019.47,385.766 L1020.08,388.409 L1020.68,391.049 L1021.25,393.7 L1021.77,396.373 L1022.21,399.078 L1022.58,401.819 L1022.85,404.597 L1023.04,407.403 L1023.16,410.226 L1023.23,413.05 L1023.29,415.853 L1023.36,418.608 L1023.48,421.285 L1023.67,423.848 L1023.97,426.262 L1024.39,428.499 L1024.94,430.534 L1025.62,432.359 L1026.41,433.982 L1027.3,435.434 L1028.23,436.761 L1029.18,438.025 L1030.08,439.291 L1030.9,440.623 L1031.6,442.075 L1032.14,443.684 L1032.52,445.467 L1032.74,447.425 L1032.83,449.541 L1032.8,451.789 L1032.68,454.137 L1032.52,456.558 L1032.31,459.025 L1032.08,461.522 L1031.82,464.035 L1031.51,466.563 L1031.14,469.104 L1030.69,471.658 L1030.15,474.23 L1029.5,476.82 L1028.75,479.427 L1027.9,482.047 L1026.98,484.672 L1026.02,487.286 L1025.04,489.876 L1024.07,492.419 L1023.16,494.892 L1022.34,497.269 L1021.66,499.524 L1021.13,501.638 L1020.79,503.595 L1020.65,505.389 L1020.68,507.03 L1020.86,508.538 L1021.13,509.951 L1021.43,511.313 L1021.69,512.675 L1021.84,514.086 L1021.82,515.59 L1021.6,517.217 L1021.16,518.979 L1020.49,520.874 L1019.6,522.885 L1018.5,524.984 L1017.22,527.136 L1015.76,529.303 L1014.14,531.451 L1012.38,533.548 L1010.48,535.573 L1008.46,537.507 L1006.32,539.339 L1004.08,541.066 L1001.74,542.689 L999.325,544.212 L996.833,545.645 L994.278,546.998 L991.669,548.284 L989.016,549.511 L986.325,550.689 L983.602,551.822 L980.853,552.912 L978.08,553.961 L975.286,554.968 L972.475,555.932 L969.648,556.852 L966.807,557.728 L963.955,558.562 L961.098,559.362 L958.24,560.137 L955.388,560.895 L952.547,561.646 L949.722,562.398 L946.915,563.158 L944.127,563.927 L941.356,564.708 L938.597,565.497 L935.847,566.294 L933.1,567.098 L930.352,567.909 L927.601,568.733 L924.849,569.58 L922.1,570.461 L919.363,571.394 L916.649,572.395 L913.971,573.483 L911.344,574.674 L908.783,575.982 L906.305,577.417 L903.924,578.988 L901.655,580.698 L899.508,582.545 L897.497,584.526 L895.636,586.629 L893.94,588.84 L892.425,591.141 L891.106,593.511 L890,595.926 L889.125,598.359 L888.495,600.781 L888.118,603.164 L887.995,605.48 L888.113,607.711 L888.448,609.843 L888.963,611.877 L889.607,613.825 L890.322,615.712 L891.047,617.572 L891.72,619.444 L892.29,621.367 L892.714,623.372 L892.963,625.481 L893.025,627.705 L892.901,630.039 L892.609,632.471 L892.179,634.982 L891.646,637.552 L891.048,640.16 L890.424,642.789 L889.804,645.426 L889.207,648.063 L888.639,650.697 L888.095,653.326 L887.559,655.951 L887.008,658.572 L886.418,661.194 L885.767,663.82 L885.038,666.454 L884.227,669.099 L883.337,671.758 L882.38,674.431 L881.37,677.12 L880.321,679.82 L879.244,682.53 L878.146,685.244 L877.026,687.954 L875.881,690.655 L874.707,693.342 L873.499,696.01 L872.256,698.657 L870.977,701.279 L869.666,703.877 L868.323,706.448 L866.951,708.992 L865.546,711.502 L864.103,713.969 L862.612,716.384 L861.059,718.731 L859.428,720.996 L857.704,723.167 L855.875,725.231 L853.934,727.181 L851.879,729.015 L849.715,730.739 L847.453,732.364 L845.111,733.907 L842.713,735.393 L840.286,736.851 L837.859,738.311 L835.458,739.801 L833.109,741.348 L830.831,742.973 L828.638,744.688 L826.534,746.497 L824.516,748.397 L822.574,750.375 L820.69,752.416 L818.846,754.502 L817.019,756.612 L815.189,758.727 L813.337,760.834 L811.451,762.923 L809.525,764.989 L807.558,767.03 L805.554,769.05 L803.519,771.052 L801.465,773.043 L799.404,775.029 L797.345,777.02 L795.302,779.022 L793.286,781.045 L791.306,783.099 L789.374,785.193 L787.496,787.335 L785.677,789.53 L783.918,791.782 L782.216,794.088 L780.562,796.442 L778.942,798.831 L777.337,801.239 L775.729,803.651 L774.101,806.049 L772.438,808.423 L770.732,810.765 L768.979,813.072 L767.182,815.349 L765.348,817.603 L763.487,819.843 L761.607,822.078 L759.714,824.314 L757.812,826.554 L755.901,828.798 L753.978,831.043 L752.039,833.281 L750.077,835.506 L748.088,837.71 L746.066,839.887 L744.009,842.032 L741.917,844.14 L739.79,846.211 L737.629,848.243 L735.439,850.236 L733.223,852.194 L730.987,854.119 L728.737,856.016 L726.479,857.89 L724.219,859.748 L721.965,861.597 L719.72,863.44 L717.491,865.283 L715.279,867.126 L713.085,868.969 L710.909,870.814 L708.751,872.66 L706.608,874.508 L704.478,876.359 L702.357,878.213 L700.244,880.073 L698.137,881.94 L696.033,883.814 L693.934,885.697 L691.837,887.587 L689.741,889.482 L687.642,891.377 L685.537,893.269 L683.418,895.153 L681.28,897.024 L679.114,898.877 L676.914,900.705 L674.671,902.5 L672.383,904.258 L670.047,905.974 L667.668,907.648 L665.249,909.282 L662.798,910.88 L660.326,912.452 L657.841,914.01 L655.355,915.562 L652.875,917.121 L650.405,918.692 L647.945,920.277 L645.491,921.871 L643.039,923.468 L640.583,925.062 L638.115,926.642 L635.63,928.202 L633.127,929.74 L630.604,931.255 L628.063,932.75 L625.509,934.228 L622.943,935.694 L620.369,937.151 L617.785,938.599 L615.193,940.034 L612.588,941.453 L609.969,942.85 L607.333,944.219 L604.678,945.554 L602.002,946.849 L599.306,948.097 L596.588,949.29 L593.848,950.419 L591.085,951.474 L588.298,952.446 L585.488,953.326 L582.656,954.107 L579.804,954.79 L576.937,955.377 L574.063,955.883 L571.193,956.326 L568.34,956.73 L565.519,957.127 L562.751,957.55 L560.056,958.032 L557.454,958.602 L554.964,959.278 L552.596,960.064 L550.352,960.95 L548.225,961.908 L546.196,962.897 L544.235,963.869 L542.307,964.773 L540.376,965.565 L538.407,966.217 L536.372,966.718 L534.254,967.079 L532.047,967.334 L529.757,967.528 L527.397,967.715 L524.983,967.943 L522.534,968.252 L520.066,968.66 L517.588,969.169 L515.104,969.761 L512.612,970.398 L510.107,971.035 L507.582,971.626 L505.028,972.124 L502.441,972.498 L499.818,972.719 L497.16,972.775 L494.472,972.662 L491.761,972.386 L489.035,971.961 L486.303,971.406 L483.572,970.746 L480.846,970.009 L478.128,969.225 L475.418,968.43 L472.715,967.662 L470.02,966.958 L467.332,966.355 L464.655,965.885 L461.988,965.573 L459.336,965.428 L456.699,965.45 L454.076,965.623 L451.466,965.917 L448.862,966.29 L446.259,966.691 L443.649,967.071 L441.025,967.384 L438.382,967.596 L435.715,967.692 L433.023,967.669 L430.308,967.547 L427.573,967.355 L424.818,967.131 L422.049,966.916 L419.271,966.749 L416.492,966.663 L413.722,966.683 L410.969,966.82 L408.242,967.079 L405.55,967.457 L402.901,967.947 L400.298,968.538 L397.74,969.213 L395.223,969.956 L392.739,970.746 L390.277,971.562 L387.824,972.38 L385.367,973.177 L382.894,973.932 L380.391,974.626 L377.85,975.243 L375.263,975.775 L372.627,976.218 L369.941,976.574 L367.209,976.85 L364.435,977.057 L361.627,977.208 L358.791,977.319 L355.934,977.408 L353.066,977.499 L350.195,977.615 L347.326,977.78 L344.466,978.018 L341.622,978.348 L338.798,978.788 L336.001,979.351 L333.238,980.045 L330.512,980.867 L327.827,981.811 L325.186,982.864 L322.587,984.007 L320.028,985.215 L317.502,986.456 L314.998,987.693 L312.504,988.888 L310.004,989.999 L307.484,990.986 L304.932,991.817 L302.337,992.467 L299.693,992.923 L296.999,993.18 L294.26,993.241 L291.484,993.116 L288.681,992.819 L285.862,992.366 L283.041,991.77 L280.228,991.042 L277.432,990.192 L274.661,989.228 L271.92,988.155 L269.214,986.982 L266.543,985.716 L263.909,984.366 L261.314,982.942 L258.756,981.454 L256.237,979.911 L253.763,978.323 L251.34,976.696 L248.98,975.032 L246.702,973.33 L244.527,971.582 L242.482,969.78 L240.594,967.91 L238.884,965.96 L237.37,963.918 L236.057,961.776 L234.938,959.532 L233.997,957.187 L233.204,954.748 L232.523,952.225 L231.914,949.629 L231.343,946.973 L230.778,944.27 L230.193,941.531 L229.573,938.769 L228.909,935.994 L228.202,933.216 L227.457,930.446 L226.689,927.692 L225.921,924.962 L225.181,922.26 L224.503,919.589 L223.93,916.948 L223.5,914.337 L223.249,911.751 L223.204,909.186 L223.379,906.637 L223.769,904.097 L224.353,901.559 L225.093,899.014 L225.942,896.454 L226.845,893.869 L227.747,891.251 L228.597,888.596 L229.351,885.899 L229.973,883.163 L230.44,880.39 L230.734,877.588 L230.845,874.769 L230.767,871.945 L230.498,869.13 L230.037,866.337 L229.386,863.578 L228.55,860.865 L227.537,858.204 L226.357,855.602 L225.025,853.059 L223.561,850.573 L221.989,848.137 L220.337,845.739 L218.634,843.367 L216.913,841.004 L215.202,838.635 L213.528,836.244 L211.914,833.819 L210.374,831.352 L208.916,828.838 L207.539,826.28 L206.231,823.685 L204.975,821.064 L203.752,818.429 L202.541,815.795 L201.324,813.174 L200.087,810.579 L198.823,808.016 L197.534,805.489 L196.226,802.996 L194.91,800.532 L193.601,798.088 L192.311,795.652 L191.052,793.212 L189.833,790.755 L188.661,788.268 L187.539,785.743 L186.469,783.172 L185.448,780.552 L184.475,777.882 L183.543,775.167 L182.643,772.413 L181.765,769.628 L180.898,766.822 L180.025,764.007 L179.129,761.195 L178.196,758.394 L177.213,755.616 L176.168,752.868 L175.059,750.154 L173.885,747.479 L172.647,744.844 L171.353,742.25 L170.008,739.696 L168.621,737.181 L167.198,734.702 L165.745,732.256 L164.264,729.844 L162.757,727.467 L161.221,725.131 L159.655,722.841 L158.058,720.605 L156.427,718.431 L154.763,716.32 L153.066,714.274 L151.339,712.284 L149.586,710.338 L147.814,708.418 L146.027,706.503 L144.23,704.576 L142.423,702.623 L140.604,700.64 L138.77,698.626 L136.92,696.59 L135.052,694.543 L133.166,692.496 L131.267,690.457 L129.363,688.432 L127.468,686.418 L125.598,684.409 L123.771,682.395 L122.003,680.366 L120.308,678.312 L118.695,676.23 L117.17,674.118 L115.732,671.974 L114.374,669.801 L113.087,667.603 L111.858,665.381 L110.674,663.139 L109.519,660.878 L108.386,658.594 L107.27,656.286 L106.171,653.95 L105.092,651.588 L104.04,649.203 L103.016,646.801 L102.024,644.388 L101.066,641.976 L100.141,639.574 L99.2497,637.193 L98.3917,634.839 L97.569,632.515 L96.7861,630.218 L96.0468,627.943 L95.3517,625.681 L94.6932,623.421 L94.0573,621.155 L93.428,618.871 L92.7871,616.56 L92.1186,614.216 L91.4131,611.83 L90.6704,609.398 L89.9014,606.915 L89.125,604.379 L88.3619,601.787 L87.631,599.142 L86.9489,596.446 L86.3218,593.705 L85.7444,590.933 L85.2027,588.14 L84.6759,585.343 L84.1426,582.555 L83.5829,579.79 L82.9872,577.059 L82.3538,574.369 L81.6915,571.72 L81.0179,569.108 L80.3549,566.527 L79.7252,563.964 L79.1456,561.409 L78.6248,558.85 L78.161,556.278 L77.7423,553.685 L77.3482,551.069 L76.9552,548.429 L76.5385,545.766 L76.0763,543.085 L75.5529,540.389 L74.9599,537.686 L74.2954,534.98 L73.5646,532.276 L72.7802,529.576 L71.9605,526.882 L71.1295,524.192 L70.3152,521.503 L69.5483,518.81 L68.8578,516.106 L68.2678,513.387 L67.7938,510.649 L67.4404,507.888 L67.2027,505.109 L67.0601,502.317 L66.9818,499.518 L66.9336,496.724 L66.8819,493.946 L66.7974,491.201 L66.6617,488.5 L66.4675,485.856 L66.2182,483.276 L65.9249,480.767 L65.6044,478.333 L65.2736,475.974 L64.9456,473.683 L64.6304,471.454 L64.3351,469.276 L64.066,467.143 L63.8305,465.048 L63.6424,462.987 L63.5225,460.959 L63.4961,458.961 L63.5879,456.991 L63.8134,455.045 L64.1751,453.115 L64.6598,451.189 L65.237,449.249 L65.8604,447.277 L66.4726,445.257 L67.0133,443.176 L67.4259,441.024 L67.6667,438.803 L67.7087,436.518 L67.5401,434.18 L67.1651,431.799 L66.601,429.387 L65.8699,426.955 L64.9969,424.516 L64.0071,422.077 L62.9215,419.643 L61.7547,417.22 L60.5153,414.812 L59.2071,412.429 L57.8305,410.078 L56.3855,407.765 L54.8734,405.493 L53.3009,403.262 L51.6817,401.067 L50.0323,398.898 L48.372,396.745 L46.7224,394.592 L45.1039,392.427 L43.532,390.236 L42.0139,388.013 L40.5487,385.753 L39.1295,383.458 L37.7438,381.131 L36.376,378.777 L35.0098,376.402 L33.6313,374.013 L32.228,371.613 L30.7927,369.205 L29.3238,366.79 L27.8268,364.368 L26.3106,361.937 L24.787,359.495 L23.2687,357.044 L21.7681,354.583 L20.2976,352.117 L18.8685,349.647 L17.4917,347.178 L16.1776,344.711 L14.9369,342.248 L13.7779,339.788 L12.703,337.333 L11.7072,334.887 L10.7802,332.453 L9.90611,330.038 L9.0622,327.651 L8.22226,325.302 L7.36132,323.002 L6.46005,320.76 L5.50834,318.583 L4.5072,316.478 L3.4684,314.453 L2.41272,312.518 L1.3672,310.685 L0.360697,308.97 L-0.579157,307.392 L-1.43058,305.969 L-2.17865,304.717" fill="none" stroke="url(#hp)" stroke-width="46.0" stroke-linejoin="round" mask="url(#hm)"/>
<g stroke="#9fd5df" stroke-width="2.2">
<path d="M1021.6,6.9 L1024.8,6.9"/>
<path d="M1021.2,16.3 L1024.8,16.3"/>
<path d="M1018.5,24.9 L1025.7,24.9"/>
<path d="M1024,34.7 L1030.3,34.7"/>
<path d="M1028.5,43.3 L1030.2,43.3"/>
</g>
<g fill="none" stroke="#d2d3d5" stroke-width="3.3" stroke-linejoin="round" stroke-linecap="round">
<path d="M1205.0,193.0 C1205.0,193.0 1200.0,195.3 1198.7,196.0 C1197.4,196.7 1195.7,196.9 1194.7,198.0 C1193.7,199.1 1193.3,201.3 1192.7,202.7 C1192.1,204.1 1192.0,206.0 1190.7,206.7 C1189.4,207.4 1186.7,206.5 1185.3,206.7 C1183.9,206.9 1182.6,207.4 1181.3,208.0 C1180.0,208.6 1178.0,210.8 1176.0,211.3 C1174.0,211.8 1158.6,213.6 1157.3,214.0 C1156.0,214.4 1157.5,216.9 1156.7,218.0 C1155.9,219.1 1148.6,227.3 1146.7,228.7 C1144.8,230.1 1142.3,230.7 1140.0,230.7 C1137.7,230.7 1135.5,229.4 1133.3,228.7 C1131.1,228.0 1128.8,226.7 1126.7,226.7 C1124.6,226.7 1121.6,226.8 1120.7,228.7 C1119.8,230.6 1120.0,240.7 1120.0,240.7 C1120.0,240.7 1117.9,241.4 1117.3,240.7 C1116.7,240.0 1115.0,234.6 1114.7,234.0 C1114.4,233.4 1113.3,232.7 1113.3,232.7 C1113.3,232.7 1113.0,241.2 1112.7,243.3 C1112.4,245.4 1110.7,249.3 1110.7,249.3 C1110.7,249.3 1105.3,248.7 1105.3,248.7 C1105.3,248.7 1104.5,251.4 1104.0,252.7 C1103.5,254.0 1100.7,261.3 1100.7,261.3 C1100.7,261.3 1097.2,260.0 1096.0,260.0 C1094.8,260.0 1092.7,261.3 1092.7,261.3 C1092.7,261.3 1094.7,266.3 1094.0,268.7 C1093.3,271.1 1088.0,276.7 1088.0,276.7 C1088.0,276.7 1083.5,275.1 1082.0,273.3 C1080.5,271.5 1079.4,266.6 1078.0,264.7 C1076.6,262.8 1072.7,260.0 1072.7,260.0 C1072.7,260.0 1077.4,272.6 1077.3,275.3 C1077.2,278.0 1073.9,280.7 1072.0,281.3 C1070.1,281.9 1066.7,278.7 1066.7,278.7 C1066.7,278.7 1065.1,280.8 1064.7,282.0 C1064.3,283.2 1065.3,286.0 1064.0,287.3 C1062.7,288.6 1058.6,289.4 1056.0,290.7 C1053.4,292.0 1047.4,295.1 1045.3,296.7 C1043.2,298.3 1041.9,301.0 1040.0,302.5 C1038.1,304.0 1035.8,304.9 1033.8,306.2 C1031.7,307.6 1027.5,310.8 1025.0,312.5 C1022.5,314.2 1019.9,315.7 1017.5,317.5 C1015.1,319.3 1010.3,322.5 1008.8,325.0 C1007.2,327.5 1008.3,330.9 1007.5,333.8 C1006.7,336.6 1001.5,343.4 1002.5,347.5 C1003.5,351.6 1011.1,353.9 1012.5,355.0 C1013.9,356.1 1016.0,357.0 1016.2,358.8 C1016.5,360.5 1017.2,387.1 1017.5,388.8 C1017.8,390.4 1021.8,388.4 1022.5,390.0 C1023.2,391.6 1025.0,400.8 1025.0,405.0 C1025.0,409.2 1022.8,413.3 1022.5,417.5 C1022.2,421.7 1022.1,436.9 1022.5,438.8 C1022.9,440.6 1027.5,441.2 1027.5,441.2 C1027.5,441.2 1030.0,435.0 1030.0,435.0 C1030.0,435.0 1036.0,436.2 1036.0,436.2 C1036.0,436.2 1035.8,447.4 1035.0,450.0 C1034.2,452.6 1030.6,453.7 1030.0,456.2 C1029.4,458.8 1030.4,465.0 1031.0,466.2 C1031.6,467.5 1035.0,467.5 1035.0,467.5 C1035.0,467.5 1026.8,485.9 1025.0,490.0 C1023.2,494.1 1020.9,500.9 1020.0,502.5 C1019.1,504.1 1016.8,504.6 1016.0,506.2 C1015.2,507.9 1015.0,512.5 1015.0,512.5 C1015.0,512.5 1020.3,511.6 1022.5,511.2 C1024.7,510.9 1029.0,510.0 1029.0,510.0 C1029.0,510.0 1024.1,514.6 1022.5,517.5 C1020.9,520.4 1018.5,527.8 1017.5,530.0 C1016.5,532.2 1015.8,534.7 1014.0,536.2 C1012.2,537.8 1006.7,539.9 1005.0,541.2 C1003.3,542.6 1002.9,545.3 1001.0,546.2 C999.1,547.2 993.5,547.4 990.0,548.8 C986.5,550.1 980.3,554.4 975.0,556.2 C969.7,558.1 960.3,560.1 955.0,561.2 C949.7,562.4 941.0,563.0 939.0,563.8 C937.0,564.5 937.0,568.0 935.0,568.8 C933.0,569.5 928.3,568.2 925.0,568.8 C921.7,569.3 915.1,571.6 912.5,572.5 C909.9,573.4 906.9,575.1 905.0,576.0 C903.1,576.9 900.8,577.2 899.3,578.7 C897.8,580.2 893.3,586.3 891.3,589.3 C889.3,592.3 887.2,596.1 886.0,598.7 C884.8,601.3 883.2,604.3 883.3,606.7 C883.4,609.1 886.1,611.2 886.7,613.0 C887.3,614.8 887.3,618.7 887.3,618.7 C887.3,618.7 896.7,616.0 896.7,616.0 C896.7,616.0 896.3,620.5 896.0,622.7 C895.7,624.9 894.8,632.6 894.0,635.3 C893.2,638.0 891.3,640.5 890.0,642.7 C888.7,644.9 886.5,648.1 886.0,649.3 C885.5,650.5 884.8,652.1 885.3,653.3 C885.8,654.5 889.4,657.0 890.0,658.7 C890.6,660.4 889.5,662.4 888.7,664.0 C887.9,665.6 884.8,669.2 883.3,672.0 C881.8,674.8 878.8,681.0 877.5,685.0 C876.2,689.0 876.9,693.7 875.0,697.5 C873.1,701.3 866.8,706.6 865.0,710.0 C863.2,713.4 863.4,719.4 862.5,721.2 C861.6,723.1 858.8,723.3 857.5,725.0 C856.2,726.7 856.7,729.8 855.0,731.2 C853.3,732.7 849.9,732.7 847.5,733.8 C845.1,734.8 842.6,736.6 840.0,737.5 C837.4,738.4 832.4,738.9 830.0,740.0 C827.6,741.1 825.2,742.8 823.8,745.0 C822.3,747.2 821.1,753.5 820.0,755.0 C818.9,756.5 816.1,756.0 815.0,757.5 C813.9,759.0 815.1,762.1 813.8,763.8 C812.4,765.4 807.5,768.3 805.0,770.0 C802.5,771.7 799.4,772.9 797.5,775.0 C795.6,777.1 795.8,780.6 793.8,782.5 C791.7,784.4 787.3,784.1 785.0,786.2 C782.7,788.4 781.4,792.0 780.0,795.0 C778.6,798.0 776.3,804.8 775.0,807.5 C773.7,810.2 772.1,813.1 770.0,815.0 C767.9,816.9 764.3,817.1 762.5,818.8 C760.7,820.4 760.2,823.0 758.8,825.0 C757.3,827.0 750.1,837.1 747.5,840.0 C744.9,842.9 741.6,844.9 738.8,847.5 C735.9,850.1 731.3,855.6 728.8,857.5 C726.2,859.4 721.2,860.4 720.0,861.2 C718.8,862.1 718.5,863.9 717.5,865.0 C716.5,866.1 711.4,871.5 710.0,872.5 C708.6,873.5 706.2,872.5 705.0,873.8 C703.8,875.0 703.7,878.8 702.5,880.0 C701.3,881.2 698.8,880.2 697.5,881.2 C696.2,882.3 688.8,891.4 687.5,892.5 C686.2,893.6 683.7,892.5 682.5,893.8 C681.3,895.0 682.5,897.6 681.2,898.8 C680.0,899.9 665.1,910.9 662.5,912.5 C659.9,914.1 655.4,914.9 653.8,915.5 C652.1,916.1 650.1,916.3 648.8,917.5 C647.4,918.7 643.7,925.1 640.0,927.5 C636.3,929.9 622.1,935.1 620.0,936.2 C617.9,937.4 617.1,940.1 615.0,941.2 C612.9,942.4 586.4,954.8 582.5,956.2 C578.6,957.7 574.2,957.5 570.0,957.5 C565.8,957.5 555.7,955.9 552.5,956.2 C549.3,956.6 545.4,957.3 543.8,960.0 C542.1,962.7 542.5,972.5 542.5,972.5 C542.5,972.5 527.4,965.2 525.0,964.5 C522.6,963.8 519.6,963.6 517.5,965.0 C515.4,966.4 510.6,974.9 507.5,976.2 C504.4,977.6 498.4,973.8 497.5,973.8 C496.6,973.7 495.9,975.2 495.0,975.0 C494.1,974.8 477.6,970.6 476.2,970.0 C474.9,969.4 475.2,966.8 473.8,966.2 C472.3,965.7 455.3,961.4 453.8,961.2 C452.2,961.1 451.1,962.9 450.0,964.0 C448.9,965.1 447.3,968.9 445.0,970.0 C442.7,971.1 438.3,971.9 435.0,971.2 C431.7,970.6 426.7,967.1 425.0,966.2 C423.3,965.4 421.9,963.8 420.0,963.8 C418.1,963.8 411.6,965.6 407.5,966.2 C403.4,966.9 395.0,967.5 395.0,967.5 C395.0,967.5 395.0,971.2 395.0,971.2 C395.0,971.2 385.9,971.4 383.8,972.5 C381.6,973.6 382.3,978.1 380.0,978.8 C377.7,979.4 371.7,976.4 370.0,976.2 C368.3,976.1 366.7,977.2 365.0,977.5 C363.3,977.8 356.9,978.9 355.0,978.8 C353.1,978.6 351.9,976.4 350.0,976.2 C348.1,976.1 334.5,977.0 332.5,977.5 C330.5,978.0 329.4,980.4 327.5,981.2 C325.6,982.1 319.5,982.7 316.2,985.0 C313.0,987.3 311.2,995.2 306.2,996.5 C301.3,997.8 289.4,994.3 285.0,993.5 C280.6,992.7 276.1,991.8 272.0,990.0 C267.9,988.2 262.5,985.0 258.0,982.0 C253.5,979.0 247.5,973.7 245.0,972.0 C242.5,970.3 238.6,968.8 237.0,968.0 C235.4,967.2 232.6,967.7 232.0,966.0 C231.4,964.3 231.4,954.1 231.5,953.0 C231.6,951.9 233.8,951.3 234.0,951.0 C234.2,950.7 233.9,950.3 233.8,950.0 C233.6,949.7 231.0,943.4 230.0,940.0 C229.0,936.6 228.2,930.5 227.5,927.5 C226.8,924.5 226.5,921.3 225.0,918.8 C223.5,916.2 219.8,914.8 218.8,912.5 C217.7,910.2 217.8,907.3 218.8,905.0 C219.7,902.7 222.9,900.0 225.0,897.5 C227.1,895.0 230.1,892.3 231.2,890.0 C232.4,887.7 232.4,885.0 232.5,882.5 C232.6,880.0 233.2,869.4 232.5,865.0 C231.8,860.6 229.4,855.7 227.5,852.5 C225.6,849.3 222.7,846.7 220.0,844.0 C217.3,841.3 212.3,837.9 210.0,835.0 C207.7,832.1 205.8,827.4 205.0,825.0 C204.2,822.6 204.6,819.9 204.0,817.5 C203.4,815.1 202.2,809.4 200.0,806.0 C197.8,802.6 191.0,797.8 190.0,796.0 C189.0,794.2 191.0,790.0 191.0,790.0 C191.0,790.0 188.1,790.1 187.5,789.0 C186.9,787.9 183.8,779.8 182.5,775.0 C181.2,770.2 180.0,761.4 179.0,757.5 C178.0,753.6 177.0,749.6 175.0,746.0 C173.0,742.4 166.8,735.5 166.0,734.0 C165.2,732.5 166.6,730.1 166.0,729.0 C165.4,727.9 163.2,728.5 162.5,727.5 C161.8,726.5 153.1,711.0 152.5,710.0 C151.9,709.0 150.0,707.5 150.0,707.5 C150.0,707.5 146.0,710.0 146.0,710.0 C146.0,710.0 141.7,703.8 140.0,701.0 C138.3,698.2 135.9,693.9 135.0,692.5 C134.1,691.1 132.8,689.3 132.0,688.5 C131.2,687.7 130.1,687.0 129.0,686.5 C127.9,686.0 124.1,685.0 123.0,684.5 C121.9,684.0 120.5,683.6 120.0,682.5 C119.5,681.4 121.0,678.9 120.0,677.5 C119.0,676.1 112.3,672.8 111.0,670.0 C109.7,667.2 112.5,661.0 112.5,661.0 C112.5,661.0 107.5,660.0 107.5,660.0 C107.5,660.0 108.3,656.5 107.5,655.0 C106.7,653.5 100.8,647.9 100.0,646.0 C99.2,644.1 101.1,641.5 101.0,640.0 C100.9,638.5 99.2,637.5 99.0,636.0 C98.8,634.5 100.0,631.0 100.0,631.0 C100.0,631.0 97.1,630.8 96.0,630.0 C94.9,629.2 91.6,626.6 91.0,625.0 C90.4,623.4 91.7,620.9 92.5,620.0 C93.3,619.1 96.0,619.0 96.0,619.0 C96.0,619.0 95.4,613.3 94.0,611.0 C92.6,608.7 88.7,606.4 87.5,605.0 C86.3,603.6 85.2,601.9 85.0,600.0 C84.8,598.1 85.3,580.9 85.0,577.5 C84.7,574.1 83.9,569.5 82.5,567.5 C81.1,565.5 77.0,565.0 76.0,564.0 C75.0,563.0 74.7,561.3 75.0,560.0 C75.3,558.7 80.0,550.5 80.0,547.5 C80.0,544.5 75.8,542.9 75.0,540.0 C74.2,537.1 75.7,530.3 74.0,526.0 C72.3,521.7 66.3,518.1 65.0,515.0 C63.7,511.9 64.4,508.3 65.0,505.0 C65.6,501.7 68.6,496.9 69.0,492.5 C69.4,488.1 68.2,481.0 67.5,479.0 C66.8,477.0 63.4,476.1 62.5,475.0 C61.6,473.9 61.0,471.0 61.0,471.0 C61.0,471.0 66.0,470.0 66.0,470.0 C66.0,470.0 66.0,461.0 66.0,461.0 C66.0,461.0 62.2,461.2 61.0,460.0 C59.8,458.8 59.2,455.7 59.0,454.0 C58.8,452.3 60.0,449.0 60.0,449.0 C60.0,449.0 64.1,450.7 66.0,450.0 C67.9,449.3 70.1,446.5 71.0,445.0 C71.9,443.5 72.8,441.7 72.5,440.0 C72.2,438.3 69.6,436.2 69.0,434.0 C68.4,431.8 70.2,428.1 69.0,426.0 C67.8,423.9 63.7,423.8 62.5,422.5 C61.3,421.2 61.3,419.2 61.0,417.5 C60.7,415.8 61.5,410.1 60.0,407.5 C58.5,404.9 54.3,404.6 52.5,402.5 C50.7,400.4 51.1,396.8 49.0,395.0 C46.9,393.2 42.4,393.6 41.0,392.5 C39.6,391.4 39.4,389.3 39.0,387.5 C38.6,385.7 38.3,377.6 37.5,376.0 C36.7,374.4 33.6,375.4 32.5,374.0 C31.4,372.6 32.1,369.5 31.0,367.5 C29.9,365.5 27.0,362.5 25.0,360.0 C23.0,357.5 19.0,353.1 17.5,350.0 C16.0,346.9 16.7,342.5 15.0,340.0 C13.3,337.5 8.3,337.9 7.5,335.0 C6.7,332.1 9.9,322.7 10.0,321.0 C10.1,319.3 10.4,316.9 9.0,316.0 C7.6,315.1 1.0,315.0 1.0,315.0 C1.0,315.0 0.9,309.8 0.0,307.5 C-0.9,305.2 -5.0,300.0 -5.0,300.0"/>
<path d="M-5.0,162.0 C-5.0,162.0 -1.7,163.3 0.0,164.0 C1.7,164.7 3.8,164.7 5.0,166.0 C6.2,167.3 6.7,170.8 8.0,173.0 C9.3,175.2 11.8,178.5 14.0,181.0 C16.2,183.5 24.1,191.2 25.0,192.0 C25.9,192.8 26.9,193.5 28.0,194.0 C29.1,194.5 32.6,196.1 35.0,197.0 C37.4,197.9 42.0,199.6 44.0,200.0 C46.0,200.4 48.0,200.4 50.0,200.0 C52.0,199.6 57.9,197.8 60.0,197.0 C62.1,196.2 64.0,194.9 66.0,194.0 C68.0,193.1 74.7,190.1 75.0,190.0 C75.3,189.9 75.7,190.0 76.0,190.0 C76.3,190.0 239.1,189.8 243.5,190.0 C247.9,190.2 248.9,197.0 252.0,200.0 C255.1,203.0 258.6,206.4 262.0,208.0 C265.4,209.6 270.7,209.7 273.0,210.0 C275.3,210.3 277.8,209.1 280.0,210.0 C282.2,210.9 283.5,214.1 285.0,215.0 C286.5,215.9 288.4,215.6 290.0,216.0 C291.6,216.4 296.6,218.4 300.0,219.0 C303.4,219.6 313.4,220.1 317.0,221.0 C320.6,221.9 323.7,224.3 327.0,226.0 C330.3,227.7 333.3,230.4 337.0,231.0 C340.7,231.6 349.1,229.9 350.0,230.0 C350.9,230.1 352.0,232.0 352.0,232.0 C352.0,232.0 355.2,229.6 357.0,229.0 C358.8,228.4 366.7,226.7 370.0,226.0 C373.3,225.3 376.6,224.1 380.0,224.0 C383.4,223.9 420.0,224.3 440.0,224.0 C460.0,223.7 480.0,222.9 500.0,222.0 C520.0,221.1 567.6,218.3 572.0,218.0 C576.4,217.7 580.6,216.0 585.0,216.0 C589.4,216.0 595.9,217.1 600.0,218.0 C604.1,218.9 612.0,222.0 612.0,222.0"/>
<path d="M417.0,-5.0 C417.0,-5.0 414.9,134.4 415.0,137.0 C415.1,139.6 418.7,140.7 420.0,143.0 C421.3,145.3 423.5,151.6 425.0,155.0 C426.5,158.4 428.7,161.8 430.0,165.0 C431.3,168.2 431.3,172.2 433.0,175.0 C434.7,177.8 437.6,180.2 440.0,182.0 C442.4,183.8 445.5,184.5 448.0,186.0 C450.5,187.5 452.4,189.8 455.0,191.0 C457.6,192.2 463.1,193.1 465.0,194.0 C466.9,194.9 468.2,196.8 470.0,198.0 C471.8,199.2 474.3,201.6 477.0,202.0 C479.7,202.4 485.7,200.8 490.0,201.0 C494.3,201.2 501.2,201.6 505.0,203.0 C508.8,204.4 515.0,210.0 515.0,210.0"/>
<path d="M470.0,238.0 C470.0,238.0 476.6,243.0 478.0,245.0 C479.4,247.0 480.0,252.0 480.0,252.0 C480.0,252.0 491.4,247.0 495.0,245.0 C498.6,243.0 505.0,238.0 505.0,238.0"/>
<path d="M380.0,242.0 C380.0,242.0 362.0,243.0 362.0,243.0 C362.0,243.0 361.2,281.0 361.0,300.0 C360.8,319.0 360.0,406.0 360.0,406.0 C360.0,406.0 312.0,406.0 312.0,406.0 C312.0,406.0 310.2,538.3 310.0,553.8 C309.8,569.2 309.3,584.6 309.0,600.0 C308.7,615.4 307.0,705.0 307.0,705.0 C307.0,705.0 302.0,705.2 300.0,705.0 C298.0,704.8 296.0,703.8 294.0,704.0 C292.0,704.2 289.0,704.4 287.5,706.0 C286.0,707.6 287.8,711.2 286.0,712.5 C284.2,713.8 277.7,712.9 276.0,714.0 C274.3,715.1 276.1,718.5 275.0,720.0 C273.9,721.5 271.9,722.5 270.0,722.5 C268.1,722.5 263.3,720.3 260.0,720.0 C256.7,719.7 253.3,720.3 250.0,721.0 C246.7,721.7 243.5,724.0 240.0,724.0 C236.5,724.0 223.2,722.2 220.0,721.0 C216.8,719.8 215.9,714.6 212.5,714.0 C209.1,713.4 194.0,716.0 194.0,716.0 C194.0,716.0 195.6,711.9 195.0,710.0 C194.4,708.1 190.9,706.5 190.0,704.0 C189.1,701.5 190.0,696.0 190.0,696.0 C190.0,696.0 187.5,696.0 187.5,696.0 C187.5,696.0 187.2,691.6 186.0,690.0 C184.8,688.4 182.3,686.7 180.0,686.0 C177.7,685.3 174.7,684.8 172.5,686.0 C170.3,687.2 167.2,692.4 166.0,694.0 C164.8,695.6 164.0,697.6 162.5,699.0 C161.0,700.4 150.0,709.0 150.0,709.0"/>
<path d="M310.0,553.8 C310.0,553.8 315.3,555.8 317.5,557.5 C319.7,559.2 324.5,564.1 326.0,566.0 C327.5,567.9 327.5,570.6 329.0,572.5 C330.5,574.4 336.5,579.8 337.5,581.0 C338.5,582.2 339.8,583.4 340.0,585.0 C340.2,586.6 338.9,589.0 339.0,591.0 C339.1,593.0 341.6,597.0 341.0,600.0 C340.4,603.0 335.2,607.6 335.0,611.0 C334.8,614.4 339.3,616.6 340.0,620.0 C340.7,623.4 339.7,634.6 340.0,636.0 C340.3,637.4 342.6,637.9 344.0,637.5 C345.4,637.1 349.3,633.3 352.5,632.5 C355.7,631.7 361.1,631.7 365.0,632.5 C368.9,633.3 372.0,637.2 376.0,637.5 C380.0,637.8 384.1,636.1 387.5,634.0 C390.9,631.9 396.6,625.8 400.0,622.5 C403.4,619.2 406.5,615.6 410.0,612.5 C413.5,609.4 419.1,606.8 421.0,604.0 C422.9,601.2 421.4,597.2 422.5,594.0 C423.6,590.8 425.4,587.7 427.5,585.0 C429.6,582.3 433.8,576.6 437.5,574.0 C441.2,571.4 447.4,569.4 450.0,569.0 C452.6,568.6 455.0,570.3 457.5,571.0 C460.0,571.7 462.5,572.8 465.0,573.5 C467.5,574.2 470.7,574.3 472.5,575.0 C474.3,575.7 475.6,577.7 477.5,578.0 C479.4,578.3 484.2,577.2 487.5,577.5 C490.8,577.8 496.6,579.3 500.0,580.0 C503.4,580.7 506.6,582.3 510.0,582.5 C513.4,582.7 521.7,581.1 527.5,581.2 C533.3,581.4 547.8,583.5 550.0,583.5 C552.2,583.5 554.5,582.6 556.0,581.0 C557.5,579.4 562.4,571.6 565.0,567.5 C567.6,563.4 570.9,558.2 572.5,555.0 C574.1,551.8 573.2,547.2 576.0,545.0 C578.8,542.8 586.7,542.0 590.0,541.0 C593.3,540.0 597.0,539.7 600.0,538.0 C603.0,536.3 606.8,532.9 610.0,530.0 C613.2,527.1 620.5,520.4 622.5,517.5 C624.5,514.6 625.3,510.0 626.0,507.5 C626.7,505.0 626.6,502.4 627.5,500.0 C628.4,497.6 630.0,492.8 632.5,490.0 C635.0,487.2 640.7,483.2 645.0,480.0 C649.3,476.8 658.0,471.3 662.5,467.5 C667.0,463.7 671.3,457.6 675.0,455.0 C678.7,452.4 683.2,451.2 687.5,450.0 C691.8,448.8 705.3,446.9 710.0,445.0 C714.7,443.1 718.2,438.5 722.5,436.2 C726.8,434.0 733.3,431.7 736.2,431.2 C739.2,430.8 742.1,432.7 745.0,432.5 C747.9,432.3 753.3,429.6 757.5,430.0 C761.7,430.4 769.0,434.0 775.0,435.0 C781.0,436.0 790.0,436.1 795.0,436.2 C800.0,436.4 806.6,436.4 810.0,436.2 C813.4,436.1 817.0,434.8 820.0,435.0 C823.0,435.2 828.8,437.5 828.8,437.5"/>
<path d="M555.0,238.0 C555.0,238.0 557.9,247.5 558.8,250.0 C559.6,252.5 560.1,255.1 561.2,257.5 C562.4,259.9 565.0,264.2 566.2,266.2 C567.5,268.3 568.8,270.4 570.0,272.5 C571.2,274.6 573.7,280.5 575.0,282.5 C576.3,284.5 578.8,285.5 580.0,287.5 C581.2,289.5 581.0,292.9 582.5,295.0 C584.0,297.1 590.1,302.8 592.5,305.0 C594.9,307.2 597.5,309.2 600.0,311.2 C602.5,313.3 604.9,315.5 607.5,317.5 C610.1,319.5 614.3,322.8 617.5,325.0 C620.7,327.2 624.1,329.3 627.5,331.2 C630.9,333.2 636.6,335.6 640.0,337.5 C643.4,339.4 646.8,342.2 650.0,343.8 C653.2,345.3 658.0,346.3 660.0,347.5 C662.0,348.7 664.1,350.3 665.0,352.5 C665.9,354.7 664.6,357.6 665.4,360.0 C666.2,362.4 669.4,364.5 669.7,367.0 C670.0,369.5 666.9,371.5 666.8,374.0 C666.7,376.5 667.9,387.6 669.0,391.0 C670.1,394.4 674.6,397.6 675.3,399.7 C676.0,401.8 673.8,406.2 673.8,406.2 C673.8,406.2 694.9,411.1 700.0,412.5 C705.1,413.9 711.2,416.2 715.0,417.5 C718.8,418.8 724.7,420.5 726.2,421.2 C727.8,422.0 729.0,423.8 730.0,425.0 C731.0,426.2 731.4,427.7 732.5,428.8 C733.6,429.8 736.2,431.2 736.2,431.2"/>
<path d="M650.0,228.0 C650.0,228.0 664.0,214.0 668.8,208.8 C673.5,203.5 677.3,197.3 682.5,192.5 C687.7,187.7 693.8,183.6 700.0,180.0 C706.2,176.4 715.4,173.0 720.0,171.0 C724.6,169.0 731.5,167.5 733.8,165.0 C736.0,162.5 734.7,157.5 735.0,155.0 C735.3,152.5 734.5,149.5 736.0,147.5 C737.5,145.5 745.4,138.2 750.0,135.0 C754.6,131.8 759.7,129.4 765.0,127.5 C770.3,125.6 780.9,123.5 785.0,122.5 C789.1,121.5 793.3,120.9 797.5,120.0 C801.7,119.1 815.0,116.0 815.0,116.0"/>
<path d="M956.0,51.0 C956.0,51.0 952.0,50.6 950.0,51.0 C948.0,51.4 936.7,54.7 930.0,56.0 C923.3,57.3 908.5,59.0 900.0,61.0 C891.5,63.0 879.1,67.7 875.0,69.0 C870.9,70.3 866.8,71.8 862.5,72.5 C858.2,73.2 830.1,76.7 825.0,77.5 C819.9,78.3 812.6,79.4 810.0,81.0 C807.4,82.6 805.9,86.6 805.5,89.0 C805.1,91.4 806.5,93.8 807.5,96.0 C808.5,98.2 811.4,101.7 812.5,105.0 C813.6,108.3 813.7,112.3 814.0,116.0 C814.3,119.7 815.0,135.0 815.0,135.0 C815.0,135.0 822.4,134.6 825.0,135.0 C827.6,135.4 831.3,137.5 832.5,137.5 C833.7,137.5 833.8,135.0 835.0,135.0 C836.2,135.0 842.5,136.8 845.0,137.5 C847.5,138.2 850.0,139.2 852.5,140.0 C855.0,140.8 857.7,141.6 860.0,142.5 C862.3,143.4 864.3,145.2 866.7,145.4 C869.1,145.6 875.9,144.0 878.3,144.2 C880.7,144.4 883.1,145.6 885.0,146.7 C886.9,147.8 888.5,149.4 890.0,150.8 C891.5,152.2 892.3,154.6 894.2,155.4 C896.1,156.2 901.7,156.1 905.0,157.1 C908.3,158.1 911.3,160.5 914.2,161.7 C917.1,162.9 921.1,163.6 923.3,164.6 C925.5,165.6 927.4,168.1 929.2,168.8 C931.0,169.4 933.1,168.9 935.0,168.8 C936.9,168.6 942.1,167.5 942.1,167.5 C942.1,167.5 939.6,173.3 938.8,175.0 C937.9,176.7 935.7,178.1 935.8,180.0 C935.9,181.9 938.7,184.8 939.2,186.7 C939.7,188.6 940.0,190.7 939.2,192.5 C938.4,194.3 935.4,196.0 934.2,198.3 C933.0,200.6 931.9,203.8 931.7,206.7 C931.5,209.6 933.0,215.0 932.5,218.3 C932.0,221.6 928.6,226.4 928.3,227.5 C928.0,228.6 928.9,229.7 929.2,230.8 C929.5,231.9 931.3,237.9 931.7,240.0 C932.1,242.1 933.3,244.5 932.3,246.4 C931.3,248.3 927.4,249.6 926.5,250.5 C925.6,251.4 924.7,252.7 924.8,254.0 C924.9,255.3 926.8,258.3 927.1,259.8 C927.4,261.3 927.6,263.0 927.1,264.5 C926.6,266.0 925.7,268.2 924.2,269.2 C922.7,270.2 918.8,269.7 917.2,270.9 C915.6,272.1 914.8,274.5 914.8,276.2 C914.8,277.9 915.7,280.0 917.2,280.8 C918.7,281.6 924.2,281.4 924.2,281.4 C924.2,281.4 924.9,287.0 924.8,289.0 C924.7,291.0 924.6,293.4 923.6,294.8 C922.6,296.2 918.9,297.2 918.9,297.2 C918.9,297.2 920.5,305.5 921.8,307.7 C923.1,309.9 926.7,311.0 927.7,312.3 C928.7,313.6 929.1,315.4 928.8,317.0 C928.5,318.6 926.2,322.1 925.3,324.0 C924.4,325.9 924.5,328.3 923.0,329.8 C921.5,331.3 917.8,331.5 916.0,333.3 C914.2,335.1 909.9,342.3 909.0,343.8 C908.1,345.3 908.0,347.3 906.7,348.5 C905.4,349.7 901.0,350.8 899.7,352.0 C898.4,353.2 897.4,354.9 897.3,356.7 C897.2,358.5 898.8,365.8 898.5,368.3 C898.2,370.8 895.6,373.5 895.0,375.1 C894.4,376.7 894.5,378.5 893.8,380.0 C893.1,381.5 891.1,386.3 888.8,388.8 C886.4,391.2 879.6,396.2 875.0,400.0 C870.4,403.8 865.1,408.4 860.0,412.5 C854.9,416.6 848.8,420.9 843.8,425.0 C838.7,429.1 830.4,434.5 828.8,437.5 C827.1,440.5 830.1,444.2 831.0,447.5 C831.9,450.8 834.4,457.5 835.0,460.0 C835.6,462.5 835.2,465.4 836.2,467.5 C837.3,469.6 840.2,470.4 841.2,472.5 C842.3,474.6 842.5,477.5 842.5,480.0 C842.5,482.5 842.5,560.0 842.5,560.0 C842.5,560.0 840.7,560.0 840.7,560.0 C840.7,560.0 839.7,567.4 838.0,570.7 C836.3,574.0 831.3,579.5 830.0,581.3 C828.7,583.1 826.6,585.0 826.0,586.7 C825.4,588.4 825.7,590.3 826.0,592.0 C826.3,593.7 830.1,607.2 830.7,610.7 C831.3,614.2 831.0,617.8 831.3,621.3 C831.6,624.8 832.6,632.8 832.7,633.3 C832.8,633.8 833.5,634.0 834.0,634.0 C834.5,634.0 843.1,632.4 844.7,632.7 C846.3,633.0 845.7,636.5 847.3,636.7 C848.9,636.9 862.4,636.2 870.0,636.0 C877.6,635.8 894.0,635.3 894.0,635.3"/>
<path d="M830.0,632.7 C830.0,632.7 828.0,632.7 828.0,632.7 C828.0,632.7 826.7,664.0 826.7,664.0 C826.7,664.0 818.2,663.5 814.0,663.3 C809.8,663.1 796.2,663.1 794.0,662.7 C791.8,662.3 790.1,660.4 788.7,658.7 C787.3,657.0 776.6,641.2 776.0,640.0 C775.4,638.8 778.2,638.0 778.0,636.7 C777.8,635.4 773.6,623.6 773.3,621.3 C773.0,619.0 774.2,616.7 775.3,614.7 C776.4,612.7 780.7,608.9 782.0,605.3 C783.3,601.7 781.0,596.6 783.3,593.3 C785.6,590.0 790.3,589.4 794.0,588.0 C797.7,586.6 805.5,583.8 808.7,584.0 C811.9,584.2 814.4,587.1 816.7,589.3 C819.0,591.5 826.0,600.0 826.0,600.0"/>
<path d="M749.0,-5.0 C749.0,-5.0 749.0,-1.4 750.0,0.0 C751.0,1.4 755.3,6.0 757.5,7.5 C759.7,9.0 762.3,10.2 765.0,10.5 C767.7,10.8 771.8,10.4 775.0,9.5 C778.2,8.6 783.2,5.2 785.0,5.0 C786.8,4.8 788.8,6.0 790.0,7.5 C791.2,9.0 792.5,14.5 792.5,14.5 C792.5,14.5 794.6,14.8 795.0,14.0 C795.4,13.2 796.9,8.0 797.5,5.0 C798.1,2.0 799.0,-5.0 799.0,-5.0"/>
<path d="M947.0,-5.0 C947.0,-5.0 947.2,-1.7 947.0,0.0 C946.8,1.7 946.7,12.8 945.0,17.0 C943.3,21.2 936.0,27.0 936.0,27.0 C936.0,27.0 939.9,29.2 941.0,31.0 C942.1,32.8 942.5,37.2 944.0,40.0 C945.5,42.8 949.7,48.9 951.0,50.0 C952.3,51.1 954.7,49.9 956.0,51.0 C957.3,52.1 958.9,56.6 961.0,59.0 C963.1,61.4 970.3,66.8 972.0,69.0 C973.7,71.2 975.0,77.0 975.0,77.0 C975.0,77.0 978.3,76.4 980.0,76.0 C981.7,75.6 984.9,74.2 987.5,74.0 C990.1,73.8 997.3,74.5 999.2,74.3 C1001.1,74.1 1003.8,72.5 1004.7,72.4 C1005.6,72.3 1006.8,72.6 1007.4,73.3 C1008.0,74.0 1011.3,78.4 1012.0,80.7 C1012.7,83.0 1011.5,86.4 1012.0,88.0 C1012.5,89.6 1014.6,90.2 1015.2,91.7 C1015.8,93.2 1015.4,97.1 1015.7,98.1 C1016.0,99.1 1017.6,99.7 1017.5,100.8 C1017.4,101.9 1015.6,103.7 1015.2,105.4 C1014.8,107.1 1015.0,111.9 1014.0,115.0 C1013.0,118.1 1009.8,122.1 1009.0,124.0 C1008.2,125.9 1008.8,128.4 1007.5,130.0 C1006.2,131.6 1001.9,131.6 1001.0,134.0 C1000.1,136.4 1001.6,139.8 1002.5,142.5 C1003.4,145.2 1004.9,151.4 1007.5,155.0 C1010.1,158.6 1018.7,166.9 1022.5,170.0 C1026.3,173.1 1033.1,175.9 1035.0,177.5 C1036.9,179.1 1038.6,181.7 1039.0,184.0 C1039.4,186.3 1038.2,189.6 1037.5,191.0 C1036.8,192.4 1034.6,192.6 1034.0,194.0 C1033.4,195.4 1034.0,199.0 1034.0,199.0 C1034.0,199.0 1037.3,200.3 1039.0,200.0 C1040.7,199.7 1043.2,199.2 1044.0,197.5 C1044.8,195.8 1043.5,191.0 1044.0,189.0 C1044.5,187.0 1047.1,186.0 1047.5,184.0 C1047.9,182.0 1047.2,175.1 1047.5,172.5 C1047.8,169.9 1049.6,167.5 1050.0,165.0 C1050.4,162.5 1049.6,159.8 1050.0,157.5 C1050.4,155.2 1052.5,151.0 1052.5,151.0 C1052.5,151.0 1059.8,154.0 1062.5,154.0 C1065.2,154.0 1067.9,152.7 1070.0,151.0 C1072.1,149.3 1073.9,146.7 1075.0,144.0 C1076.1,141.3 1077.1,136.4 1077.5,132.5 C1077.9,128.6 1077.8,120.1 1077.5,117.5 C1077.2,114.9 1075.1,112.6 1075.0,110.0 C1074.9,107.4 1075.9,103.6 1076.6,100.8 C1077.3,98.0 1078.6,95.3 1079.4,92.6 C1080.2,89.9 1082.6,86.8 1081.2,84.3 C1079.8,81.8 1054.8,45.9 1051.4,41.3 C1048.0,36.7 1041.3,29.6 1040.0,28.4 C1038.7,27.2 1035.9,28.1 1034.9,26.6 C1033.9,25.1 1034.5,19.7 1034.5,19.7 C1034.5,19.7 1031.7,19.3 1031.7,19.3 C1031.7,19.3 1031.5,7.8 1031.7,4.6 C1031.9,1.4 1033.1,-5.0 1033.1,-5.0"/>
<path d="M1007.4,-5.0 C1007.4,-5.0 1007.6,4.9 1007.9,6.0 C1008.2,7.1 1010.0,7.0 1011.1,6.9 C1012.2,6.8 1014.3,5.5 1014.3,5.5 C1014.3,5.5 1014.7,8.5 1014.3,9.2 C1013.9,9.9 1012.2,9.3 1012.0,10.1 C1011.8,10.9 1010.9,23.8 1010.6,27.5 C1010.3,31.2 1009.7,38.5 1009.7,38.5 C1009.7,38.5 1011.8,38.0 1012.9,37.6 C1014.0,37.2 1015.4,35.7 1016.6,36.2 C1017.8,36.7 1019.4,38.7 1020.3,40.3 C1021.2,41.9 1021.8,43.9 1022.1,45.8 C1022.4,47.7 1022.5,54.1 1022.5,54.1 C1022.5,54.1 1018.4,53.2 1018.4,53.2 C1018.4,53.2 1018.2,59.4 1018.4,60.5 C1018.6,61.6 1019.3,62.8 1020.3,63.3 C1021.3,63.8 1025.3,64.6 1026.7,64.6 C1028.1,64.6 1029.8,64.3 1030.8,63.3 C1031.8,62.3 1033.5,57.3 1033.5,57.3 C1033.5,57.3 1033.9,59.1 1034.5,59.6 C1035.1,60.1 1038.0,61.1 1039.5,62.3 C1041.0,63.5 1042.4,65.3 1043.6,66.9 C1044.8,68.5 1046.7,73.3 1048.7,74.3 C1050.7,75.3 1053.9,73.8 1055.1,72.4 C1056.3,71.0 1055.9,68.6 1055.1,66.9 C1054.3,65.2 1047.8,56.9 1046.8,55.0 C1045.8,53.1 1046.1,49.7 1045.5,48.6 C1044.9,47.5 1043.5,47.0 1042.3,46.8 C1041.1,46.6 1036.7,46.8 1036.7,46.8 C1036.7,46.8 1038.0,31.1 1037.7,29.3 C1037.4,27.5 1034.8,27.2 1033.1,26.6 C1031.4,26.0 1028.8,26.0 1026.7,25.7 C1024.6,25.4 1020.3,24.8 1020.3,24.8 C1020.3,24.8 1019.9,22.3 1019.9,21.1 C1019.9,19.9 1020.3,-5.0 1020.3,-5.0"/>
<path d="M627.5,763.8 C628.0,763.5 630.9,763.2 632.5,762.5 C634.1,761.8 639.1,759.1 642.5,757.5 C645.9,755.9 650.4,754.9 653.8,752.5 C657.1,750.1 662.9,742.7 666.2,740.0 C669.6,737.3 673.3,734.6 677.5,733.8 C681.7,732.9 687.1,733.1 691.2,735.0 C695.4,736.9 699.0,741.5 702.5,745.0 C706.0,748.5 713.3,756.5 715.0,758.8 C716.7,761.0 719.0,763.9 718.8,766.2 C718.5,768.6 714.9,769.2 713.8,771.2 C712.6,773.3 712.7,777.7 711.2,780.0 C709.8,782.3 707.3,783.7 705.0,785.0 C702.7,786.3 698.3,787.5 695.0,788.8 C691.7,790.0 685.3,793.1 682.5,793.8 C679.7,794.4 676.3,792.9 673.8,793.8 C671.2,794.6 669.0,796.6 667.5,798.8 C666.0,800.9 666.2,804.2 665.0,806.2 C663.8,808.3 661.9,810.4 660.0,811.2 C658.1,812.1 655.6,812.1 653.8,811.2 C651.9,810.4 647.0,806.4 643.8,803.8 C640.5,801.1 636.0,798.3 633.8,795.0 C631.5,791.7 630.8,787.4 630.0,783.8 C629.2,780.1 629.3,775.1 628.8,772.5 C628.2,769.9 626.3,765.6 626.2,765.0 C626.2,764.4 627.0,764.0 627.5,763.8 Z"/>
</g>
<ellipse cx="1064.3" cy="253" rx="8.3" ry="3.4" transform="rotate(52 1064.3 253)" fill="#d2d3d5"/>
<path d="M645,240 L684.2,285.3 C679.92,272.12 682.90,356.43 718.75,347.25 L812.9,319.25 C832.81,364.09 809.25,406.21 727.5,499.5 L803.6,496 Q811,508 812.75,530 Q812,552 803.6,564.8 C768.18,595.9 688.32,598.5 685.75,600.6" fill="none" stroke="#e4525a" stroke-width="7.4" stroke-linejoin="round" stroke-linecap="round"/>
<path d="M259.5,961.75 C360.59,941.57 457.66,907.66 535.31,855.81 C612.84,804.05 684.22,731.15 685.75,600" fill="none" stroke="#e4525a" stroke-width="8" stroke-dasharray="9.3 18.04" stroke-dashoffset="0.38" stroke-linecap="round"/>
<g fill="none" stroke="#000" stroke-width="2.1" stroke-linejoin="miter" stroke-linecap="round">
<path d="M678.8,262 L660.9,259.5 L658.7,276.8"/>
<path d="M761.6,440 L777.4,437.4 L781.75,454"/>
<path d="M735,581.8 L748.75,591 L739.2,605"/>
<path d="M814.2,490 L852.5,470" stroke-width="1.3"/>
<path d="M825,533.75 L863.75,543.75" stroke-width="1.3"/>
</g>
<circle cx="684.2" cy="285.3" r="11.9" fill="#000"/>
<circle cx="718.75" cy="347.25" r="11.9" fill="#000"/>
<circle cx="812.9" cy="319.25" r="11.9" fill="#000"/>
<circle cx="727.5" cy="499.8" r="11.9" fill="#000"/>
<circle cx="803.6" cy="496" r="11.9" fill="#000"/>
<circle cx="803.6" cy="564.8" r="11.9" fill="#000"/>
<circle cx="685.75" cy="600.6" r="11.9" fill="#000"/>
<circle cx="812.75" cy="530" r="12" fill="#e4525a"/><circle cx="812.75" cy="530" r="4" fill="#fff"/>
<rect x="568" y="221" width="45" height="7.8" fill="#84cec3"/>
<rect x="373.3" y="202.8" width="198.7" height="41.7" rx="8" fill="#84cec3"/>
<circle cx="640" cy="224.7" r="32.5" fill="#84cec3"/><circle cx="640" cy="224.7" r="25" fill="#e4525a"/><circle cx="640" cy="224.7" r="17.2" fill="#4f3598"/>
<circle cx="259.5" cy="961.75" r="25" fill="#e4525a"/><circle cx="259.5" cy="961.75" r="17" fill="#4f3598"/>
<path d="M0,-17 C1.4,-17 2.1,-15.5 2.1,-13 L2.0,-5.5 L16.5,6 L16.5,8 L1.8,1.5 L1.3,12 L5.8,16.2 L5.8,17.8 L0,16 L-5.8,17.8 L-5.8,16.2 L-1.3,12 L-1.8,1.5 L-16.5,8 L-16.5,6 L-2.0,-5.5 L-2.1,-13 C-2.1,-15.5 -1.4,-17 0,-17 Z" fill="#000" transform="translate(607.3,839.7) rotate(47.5)"/>
<g style="will-change:transform">
<text x="491.8" y="150.7" font-family='"Liberation Sans", sans-serif' font-size="49.4" font-weight="bold" font-style="normal" fill="#000" textLength="299.0" lengthAdjust="spacingAndGlyphs">Victoria Falls</text>
<text x="130.8" y="1041.25" font-family='"Liberation Sans", sans-serif' font-size="49.4" font-weight="bold" font-style="normal" fill="#000" textLength="258.5" lengthAdjust="spacingAndGlyphs">Cape Town</text>
<text x="617.2" y="178.1" font-family='"Liberation Sans", sans-serif' font-size="18.6" font-weight="bold" font-style="normal" fill="#e4525a" textLength="45.4" lengthAdjust="spacing">END</text>
<text x="224.0" y="1069.25" font-family='"Liberation Sans", sans-serif' font-size="19.5" font-weight="bold" font-style="normal" fill="#e4525a" textLength="68.7" lengthAdjust="spacing">START</text>
<text x="514.45" y="307.9" font-family='"Liberation Sans", sans-serif' font-size="29.16" font-weight="bold" font-style="normal" fill="#000" textLength="149.25" lengthAdjust="spacingAndGlyphs">Hwange NP</text>
<text x="644.15" y="390.4" font-family='"Liberation Sans", sans-serif' font-size="28.62" font-weight="bold" font-style="normal" fill="#000" textLength="142.65" lengthAdjust="spacingAndGlyphs">Matobo NP</text>
<text x="851.1" y="315.4" font-family='"Liberation Sans", sans-serif' font-size="27.54" font-weight="bold" font-style="normal" fill="#000" textLength="213.0" lengthAdjust="spacingAndGlyphs">Great Zimbabwe</text>
<text x="830.65" y="347.9" font-family='"Liberation Sans", sans-serif' font-size="27.54" font-weight="bold" font-style="normal" fill="#000" textLength="252.65" lengthAdjust="spacingAndGlyphs">National Monument</text>
<text x="852.75" y="433.4" font-family='"Liberation Sans", sans-serif' font-size="27.54" font-weight="bold" font-style="normal" fill="#000" textLength="98.5" lengthAdjust="spacingAndGlyphs">Greater</text>
<text x="827.9" y="465.4" font-family='"Liberation Sans", sans-serif' font-size="27.54" font-weight="bold" font-style="normal" fill="#000" textLength="149.35" lengthAdjust="spacingAndGlyphs">Kruger Park</text>
<text x="446.65" y="509.6" font-family='"Liberation Sans", sans-serif' font-size="29.16" font-weight="bold" font-style="normal" fill="#000" textLength="256.55" lengthAdjust="spacingAndGlyphs">Louis Trichardt Area</text>
<text x="473.7" y="608.4" font-family='"Liberation Sans", sans-serif' font-size="29.16" font-weight="bold" font-style="normal" fill="#000" textLength="185.8" lengthAdjust="spacingAndGlyphs">Johannesburg</text>
<text x="781.7" y="607.9" font-family='"Liberation Sans", sans-serif' font-size="27.54" font-weight="bold" font-style="normal" fill="#000" textLength="120.55" lengthAdjust="spacingAndGlyphs">Hazyview</text>
<text x="864.55" y="554.15" font-family='"Liberation Sans", sans-serif' font-size="25.38" font-weight="bold" font-style="italic" fill="#000" textLength="114.95" lengthAdjust="spacingAndGlyphs">Kruger NP</text>
<text x="733.0" y="212.5" font-family='"Liberation Sans", sans-serif' font-size="20.5" font-weight="normal" font-style="normal" fill="#8d8e91" textLength="165.0" lengthAdjust="spacing" stroke="#fff" stroke-width="0.3">ZIMBABWE</text>
<text x="294.0" y="773.0" font-family='"Liberation Sans", sans-serif' font-size="19" font-weight="normal" font-style="normal" fill="#8d8e91" textLength="241.0" lengthAdjust="spacing" stroke="#fff" stroke-width="0.3">SOUTH AFRICA</text>
<text x="392.3" y="231.7" font-family='"Liberation Sans", sans-serif' font-size="26.6" font-weight="bold" font-style="normal" fill="#fff" textLength="104.7" lengthAdjust="spacingAndGlyphs" stroke="#84cec3" stroke-width="0.2">G FOR G</text>
<text x="539.0" y="231.7" font-family='"Liberation Sans", sans-serif' font-size="26.6" font-weight="bold" font-style="normal" fill="#fff" textLength="15.6" lengthAdjust="spacingAndGlyphs" stroke="#84cec3" stroke-width="0.2">D</text>
<path d="M516.7,222.5 C513,218 510,214.7 505.5,214.7 C500.5,214.7 497,218.3 497,222.5 C497,226.7 500.5,230.3 505.5,230.3 C510,230.3 513,227 516.7,222.5 C520.4,218 523.4,214.7 527.9,214.7 C532.9,214.7 536.4,218.3 536.4,222.5 C536.4,226.7 532.9,230.3 527.9,230.3 C523.4,230.3 520.4,227 516.7,222.5 Z" fill="none" stroke="#fff" stroke-width="3"/>
</g>
</svg></body></html>
